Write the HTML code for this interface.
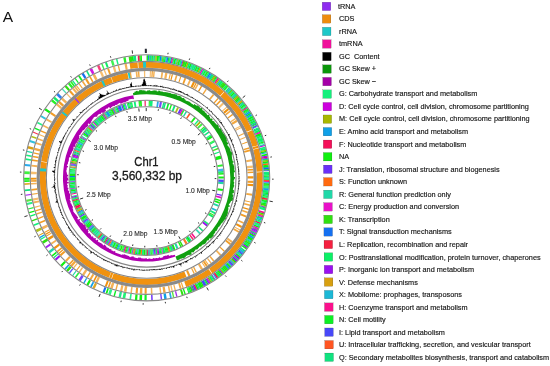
<!DOCTYPE html>
<html><head><meta charset="utf-8"><style>
html,body{margin:0;padding:0;background:#fff;overflow:hidden}
svg{display:block;will-change:transform}
text{font-family:"Liberation Sans",sans-serif}
</style></head><body>
<svg width="550" height="366" viewBox="0 0 550 366">
<rect width="550" height="366" fill="#fff"/>
<text x="2.8" y="21.9" font-size="15.5" fill="#111">A</text>
<path fill="#30e010" d="M128.58 56.6A122.6 122.6 0 0 1 130.41 56.34L131.15 61.89A117 117 0 0 0 129.41 62.14ZM130.24 56.36A122.6 122.6 0 0 1 131.79 56.16L132.47 61.72A117 117 0 0 0 130.99 61.91ZM139.09 55.49A122.6 122.6 0 0 1 140.57 55.4L140.85 61A117 117 0 0 0 139.43 61.08ZM178.69 59.5A122.6 122.6 0 0 1 180.41 59.97L178.87 65.36A117 117 0 0 0 177.23 64.9ZM183.27 60.83A122.6 122.6 0 0 1 184.25 61.14L182.54 66.47A117 117 0 0 0 181.6 66.18ZM184.09 61.09A122.6 122.6 0 0 1 185.84 61.67L184.06 66.97A117 117 0 0 0 182.38 66.42ZM196.36 65.76A122.6 122.6 0 0 1 197.92 66.46L195.58 71.55A117 117 0 0 0 194.09 70.88ZM206.89 71.04A122.6 122.6 0 0 1 208.38 71.9L205.56 76.74A117 117 0 0 0 204.14 75.92ZM213.64 75.14A122.6 122.6 0 0 1 214.51 75.71L211.41 80.38A117 117 0 0 0 210.58 79.83ZM215.48 76.36A122.6 122.6 0 0 1 216.3 76.92L213.12 81.53A117 117 0 0 0 212.34 81ZM223.67 82.42A122.6 122.6 0 0 1 225 83.51L221.42 87.82A117 117 0 0 0 220.15 86.78ZM224.86 83.4A122.6 122.6 0 0 1 226.21 84.52L222.57 88.79A117 117 0 0 0 221.29 87.71ZM231.7 89.5A122.6 122.6 0 0 1 232.4 90.18L228.49 94.18A117 117 0 0 0 227.82 93.54ZM236.91 94.83A122.6 122.6 0 0 1 237.78 95.78L233.62 99.53A117 117 0 0 0 232.79 98.62ZM238.67 96.78A122.6 122.6 0 0 1 239.77 98.05L235.52 101.69A117 117 0 0 0 234.47 100.48ZM248.47 109.48A122.6 122.6 0 0 1 248.96 110.23L244.29 113.32A117 117 0 0 0 243.82 112.6ZM253.71 118.02A122.6 122.6 0 0 1 254.47 119.4L249.55 122.07A117 117 0 0 0 248.82 120.75ZM256.49 123.29A122.6 122.6 0 0 1 257.02 124.36L251.98 126.8A117 117 0 0 0 251.48 125.79ZM263.75 141.37A122.6 122.6 0 0 1 264.12 142.59L258.76 144.2A117 117 0 0 0 258.4 143.04ZM268.97 168.9A122.6 122.6 0 0 1 269.07 170.31L263.48 170.66A117 117 0 0 0 263.39 169.31ZM269.1 170.81A122.6 122.6 0 0 1 269.11 171.03L263.52 171.34A117 117 0 0 0 263.51 171.13ZM269.18 183.32A122.6 122.6 0 0 1 269.08 185.11L263.49 184.78A117 117 0 0 0 263.58 183.07ZM267.67 197.77A122.6 122.6 0 0 1 267.52 198.66L262 197.71A117 117 0 0 0 262.15 196.86ZM267.3 199.9A122.6 122.6 0 0 1 267.1 200.96L261.6 199.9A117 117 0 0 0 261.79 198.89ZM266.36 204.55A122.6 122.6 0 0 1 265.94 206.35L260.49 205.05A117 117 0 0 0 260.89 203.33ZM257.98 229.3A122.6 122.6 0 0 1 257.55 230.22L252.49 227.83A117 117 0 0 0 252.9 226.95ZM250.43 243.21A122.6 122.6 0 0 1 249.45 244.73L244.75 241.68A117 117 0 0 0 245.69 240.22ZM240.73 256.52A122.6 122.6 0 0 1 239.55 257.91L235.31 254.25A117 117 0 0 0 236.44 252.92ZM231.3 266.58A122.6 122.6 0 0 1 230.61 267.23L226.78 263.15A117 117 0 0 0 227.44 262.53ZM228.53 269.14A122.6 122.6 0 0 1 227.12 270.38L223.45 266.16A117 117 0 0 0 224.8 264.97ZM226.13 271.24A122.6 122.6 0 0 1 224.95 272.23L221.38 267.92A117 117 0 0 0 222.5 266.98ZM222.27 274.39A122.6 122.6 0 0 1 220.85 275.48L217.47 271.02A117 117 0 0 0 218.82 269.98ZM218.87 276.96A122.6 122.6 0 0 1 218.15 277.47L214.89 272.92A117 117 0 0 0 215.57 272.43ZM214.95 279.69A122.6 122.6 0 0 1 214.13 280.24L211.05 275.56A117 117 0 0 0 211.84 275.04ZM204.07 286.2A122.6 122.6 0 0 1 202.67 286.93L200.12 281.94A117 117 0 0 0 201.45 281.25ZM193.02 291.36A122.6 122.6 0 0 1 191.36 292.03L189.32 286.81A117 117 0 0 0 190.9 286.18ZM153.56 254.74A77.2 77.2 0 0 1 152.56 254.83L152.14 249.24A71.6 71.6 0 0 0 153.06 249.17ZM151.98 254.87A77.2 77.2 0 0 1 150.57 254.95L150.29 249.36A71.6 71.6 0 0 0 151.6 249.28ZM133.06 253.84A77.2 77.2 0 0 1 132.32 253.7L133.36 248.2A71.6 71.6 0 0 0 134.05 248.32ZM125.65 252.12A77.2 77.2 0 0 1 124.62 251.83L126.22 246.46A71.6 71.6 0 0 0 127.18 246.74ZM122.51 251.16A77.2 77.2 0 0 1 121.75 250.91L123.56 245.61A71.6 71.6 0 0 0 124.26 245.84ZM115.65 248.53A77.2 77.2 0 0 1 114.56 248.04L116.89 242.95A71.6 71.6 0 0 0 117.91 243.41ZM92.1 232.43A77.2 77.2 0 0 1 91.57 231.89L95.57 227.97A71.6 71.6 0 0 0 96.06 228.47ZM91.65 231.97A77.2 77.2 0 0 1 91.02 231.32L95.06 227.44A71.6 71.6 0 0 0 95.64 228.04ZM69.52 176.08A77.2 77.2 0 0 1 69.56 174.88L75.15 175.1A71.6 71.6 0 0 0 75.12 176.2ZM73.13 154.47A77.2 77.2 0 0 1 73.48 153.38L78.79 155.16A71.6 71.6 0 0 0 78.46 156.17ZM86.13 129.99A77.2 77.2 0 0 1 86.84 129.1L91.18 132.63A71.6 71.6 0 0 0 90.52 133.46ZM92.05 123.32A77.2 77.2 0 0 1 92.57 122.8L96.5 126.8A71.6 71.6 0 0 0 96.02 127.28ZM101.59 115.2A77.2 77.2 0 0 1 102.44 114.6L105.65 119.18A71.6 71.6 0 0 0 104.86 119.75ZM110.51 109.66A77.2 77.2 0 0 1 111.39 109.2L113.96 114.18A71.6 71.6 0 0 0 113.14 114.6ZM111.3 109.25A77.2 77.2 0 0 1 112.43 108.67L114.92 113.69A71.6 71.6 0 0 0 113.87 114.22Z"/>
<path fill="#10f010" d="M131.62 56.18A122.6 122.6 0 0 1 133.45 55.97L134.06 61.53A117 117 0 0 0 132.3 61.74ZM136.84 55.65A122.6 122.6 0 0 1 137 55.63L137.44 61.22A117 117 0 0 0 137.29 61.23ZM140.4 55.41A122.6 122.6 0 0 1 141.84 55.35L142.06 60.94A117 117 0 0 0 140.69 61ZM146.55 55.25A122.6 122.6 0 0 1 148.09 55.26L148.02 60.86A117 117 0 0 0 146.55 60.85ZM148.76 55.27A122.6 122.6 0 0 1 149.81 55.29L149.67 60.89A117 117 0 0 0 148.66 60.87ZM153.63 55.45A122.6 122.6 0 0 1 154.93 55.53L154.56 61.11A117 117 0 0 0 153.31 61.04ZM156.72 55.66A122.6 122.6 0 0 1 157.9 55.76L157.38 61.34A117 117 0 0 0 156.26 61.24ZM157.72 55.75A122.6 122.6 0 0 1 159.08 55.88L158.52 61.45A117 117 0 0 0 157.22 61.32ZM164.64 56.57A122.6 122.6 0 0 1 165.97 56.77L165.09 62.3A117 117 0 0 0 163.82 62.11ZM168.29 57.17A122.6 122.6 0 0 1 169.52 57.39L168.48 62.89A117 117 0 0 0 167.3 62.68ZM174.45 58.43A122.6 122.6 0 0 1 176.23 58.86L174.88 64.29A117 117 0 0 0 173.18 63.89ZM185.68 61.61A122.6 122.6 0 0 1 187.37 62.19L185.51 67.47A117 117 0 0 0 183.9 66.92ZM190.19 63.22A122.6 122.6 0 0 1 191.17 63.6L189.14 68.82A117 117 0 0 0 188.2 68.46ZM191.01 63.54A122.6 122.6 0 0 1 191.94 63.9L189.87 69.11A117 117 0 0 0 188.99 68.76ZM198.72 66.83A122.6 122.6 0 0 1 199.91 67.4L197.48 72.44A117 117 0 0 0 196.34 71.9ZM216.15 76.82A122.6 122.6 0 0 1 217.05 77.44L213.84 82.03A117 117 0 0 0 212.98 81.44ZM222.99 81.88A122.6 122.6 0 0 1 223.8 82.53L220.28 86.88A117 117 0 0 0 219.51 86.26ZM227.08 85.28A122.6 122.6 0 0 1 228.21 86.27L224.48 90.45A117 117 0 0 0 223.41 89.5ZM233.96 91.74A122.6 122.6 0 0 1 235.23 93.04L231.19 96.91A117 117 0 0 0 229.98 95.67ZM239.66 97.92A122.6 122.6 0 0 1 240.61 99.03L236.32 102.63A117 117 0 0 0 235.41 101.57ZM242.49 101.34A122.6 122.6 0 0 1 243.31 102.37L238.9 105.82A117 117 0 0 0 238.12 104.83ZM245.39 105.11A122.6 122.6 0 0 1 245.89 105.79L241.36 109.08A117 117 0 0 0 240.88 108.44ZM246.35 106.43A122.6 122.6 0 0 1 246.93 107.24L242.35 110.47A117 117 0 0 0 241.8 109.7ZM247.73 108.4A122.6 122.6 0 0 1 248.56 109.62L243.91 112.74A117 117 0 0 0 243.12 111.57ZM252.45 115.82A122.6 122.6 0 0 1 253.38 117.44L248.51 120.2A117 117 0 0 0 247.62 118.65ZM254.92 120.24A122.6 122.6 0 0 1 255.52 121.37L250.55 123.95A117 117 0 0 0 249.98 122.87ZM259.93 130.83A122.6 122.6 0 0 1 260.28 131.69L255.09 133.8A117 117 0 0 0 254.75 132.98ZM260.74 132.85A122.6 122.6 0 0 1 261.27 134.21L256.04 136.2A117 117 0 0 0 255.53 134.91ZM261.21 134.05A122.6 122.6 0 0 1 261.66 135.26L256.41 137.2A117 117 0 0 0 255.98 136.05ZM266.26 150.72A122.6 122.6 0 0 1 266.62 152.36L261.14 153.52A117 117 0 0 0 260.8 151.96ZM266.9 153.73A122.6 122.6 0 0 1 267.26 155.57L261.75 156.59A117 117 0 0 0 261.41 154.83ZM268.14 161.05A122.6 122.6 0 0 1 268.38 162.83L262.82 163.51A117 117 0 0 0 262.6 161.82ZM268.57 164.52A122.6 122.6 0 0 1 268.71 165.8L263.13 166.35A117 117 0 0 0 263.01 165.13ZM268.69 165.63A122.6 122.6 0 0 1 268.85 167.4L263.27 167.88A117 117 0 0 0 263.12 166.19ZM269.28 175.42A122.6 122.6 0 0 1 269.3 176.86L263.7 176.9A117 117 0 0 0 263.68 175.53ZM269.09 184.94A122.6 122.6 0 0 1 269.04 185.86L263.45 185.49A117 117 0 0 0 263.5 184.62ZM268.89 187.81A122.6 122.6 0 0 1 268.82 188.7L263.24 188.2A117 117 0 0 0 263.31 187.36ZM268.36 193.01A122.6 122.6 0 0 1 268.19 194.28L262.64 193.53A117 117 0 0 0 262.8 192.32ZM268 195.67A122.6 122.6 0 0 1 267.79 197.04L262.26 196.16A117 117 0 0 0 262.46 194.86ZM266.62 203.35A122.6 122.6 0 0 1 266.32 204.72L260.86 203.49A117 117 0 0 0 261.14 202.19ZM265.66 207.52A122.6 122.6 0 0 1 265.43 208.43L260 207.03A117 117 0 0 0 260.22 206.16ZM264.07 213.29A122.6 122.6 0 0 1 263.63 214.69L258.29 213.01A117 117 0 0 0 258.7 211.67ZM261.49 220.92A122.6 122.6 0 0 1 261.12 221.88L255.89 219.87A117 117 0 0 0 256.24 218.95ZM259.27 226.42A122.6 122.6 0 0 1 258.54 228.07L253.43 225.78A117 117 0 0 0 254.13 224.2ZM254.99 235.33A122.6 122.6 0 0 1 254.58 236.09L249.66 233.43A117 117 0 0 0 250.04 232.7ZM254.66 235.94A122.6 122.6 0 0 1 254.04 237.08L249.14 234.38A117 117 0 0 0 249.73 233.29ZM253.18 238.62A122.6 122.6 0 0 1 252.29 240.16L247.46 237.31A117 117 0 0 0 248.31 235.85ZM252.37 240.01A122.6 122.6 0 0 1 251.73 241.08L246.94 238.2A117 117 0 0 0 247.55 237.17ZM250.82 242.57A122.6 122.6 0 0 1 250.34 243.35L245.6 240.36A117 117 0 0 0 246.07 239.62ZM248.71 245.86A122.6 122.6 0 0 1 247.77 247.24L243.16 244.07A117 117 0 0 0 244.05 242.76ZM247.18 248.1A122.6 122.6 0 0 1 246.11 249.6L241.57 246.32A117 117 0 0 0 242.59 244.89ZM236.32 261.51A122.6 122.6 0 0 1 235.05 262.85L231.02 258.97A117 117 0 0 0 232.22 257.69ZM234.05 263.88A122.6 122.6 0 0 1 233.4 264.53L229.44 260.57A117 117 0 0 0 230.06 259.95ZM230.74 267.11A122.6 122.6 0 0 1 229.74 268.04L225.95 263.92A117 117 0 0 0 226.9 263.04ZM227.25 270.27A122.6 122.6 0 0 1 226 271.35L222.38 267.08A117 117 0 0 0 223.57 266.05ZM211.42 281.98A122.6 122.6 0 0 1 210.49 282.55L207.57 277.77A117 117 0 0 0 208.46 277.22ZM202.83 286.85A122.6 122.6 0 0 1 201.29 287.63L198.79 282.61A117 117 0 0 0 200.26 281.87ZM201.44 287.55A122.6 122.6 0 0 1 199.88 288.32L197.45 283.27A117 117 0 0 0 198.94 282.54ZM198.78 288.84A122.6 122.6 0 0 1 197.12 289.6L194.82 284.5A117 117 0 0 0 196.4 283.77ZM194.72 290.66A122.6 122.6 0 0 1 193.5 291.17L191.36 285.99A117 117 0 0 0 192.52 285.5ZM191.52 291.96A122.6 122.6 0 0 1 190.2 292.47L188.21 287.24A117 117 0 0 0 189.47 286.75ZM189.36 292.79A122.6 122.6 0 0 1 188.43 293.13L186.52 287.86A117 117 0 0 0 187.41 287.54ZM175.49 249.48A77.2 77.2 0 0 1 174.35 249.93L172.34 244.7A71.6 71.6 0 0 0 173.41 244.28ZM174.45 249.89A77.2 77.2 0 0 1 173.55 250.23L171.6 244.98A71.6 71.6 0 0 0 172.44 244.66ZM170.98 251.13A77.2 77.2 0 0 1 170.11 251.41L168.42 246.08A71.6 71.6 0 0 0 169.22 245.82ZM168.94 251.78A77.2 77.2 0 0 1 167.78 252.12L166.25 246.73A71.6 71.6 0 0 0 167.33 246.41ZM166.84 252.38A77.2 77.2 0 0 1 165.86 252.64L164.47 247.21A71.6 71.6 0 0 0 165.38 246.97ZM162.04 253.51A77.2 77.2 0 0 1 161.23 253.67L160.18 248.17A71.6 71.6 0 0 0 160.92 248.02ZM146.86 255.05A77.2 77.2 0 0 1 146.12 255.05L146.17 249.45A71.6 71.6 0 0 0 146.85 249.45ZM144.97 255.03A77.2 77.2 0 0 1 143.7 254.99L143.91 249.4A71.6 71.6 0 0 0 145.1 249.43ZM140.75 254.82A77.2 77.2 0 0 1 139.74 254.74L140.25 249.16A71.6 71.6 0 0 0 141.18 249.24ZM139.85 254.75A77.2 77.2 0 0 1 139.09 254.67L139.64 249.1A71.6 71.6 0 0 0 140.35 249.17ZM139.2 254.68A77.2 77.2 0 0 1 138 254.56L138.63 248.99A71.6 71.6 0 0 0 139.74 249.11ZM136.99 254.44A77.2 77.2 0 0 1 135.89 254.29L136.67 248.74A71.6 71.6 0 0 0 137.7 248.88ZM131.07 253.45A77.2 77.2 0 0 1 129.8 253.18L131.02 247.71A71.6 71.6 0 0 0 132.21 247.97ZM129.9 253.2A77.2 77.2 0 0 1 129.24 253.05L130.5 247.59A71.6 71.6 0 0 0 131.12 247.73ZM126.63 252.4A77.2 77.2 0 0 1 125.55 252.1L127.08 246.71A71.6 71.6 0 0 0 128.09 246.99ZM121.85 250.94A77.2 77.2 0 0 1 121.48 250.81L123.31 245.52A71.6 71.6 0 0 0 123.66 245.64ZM121.13 250.69A77.2 77.2 0 0 1 119.86 250.23L121.8 244.98A71.6 71.6 0 0 0 122.99 245.41ZM119.96 250.27A77.2 77.2 0 0 1 119.59 250.13L121.56 244.89A71.6 71.6 0 0 0 121.9 245.02ZM119.35 250.04A77.2 77.2 0 0 1 118.65 249.77L120.69 244.56A71.6 71.6 0 0 0 121.33 244.81ZM116.83 249.04A77.2 77.2 0 0 1 115.56 248.49L117.81 243.36A71.6 71.6 0 0 0 119 243.88ZM113.83 247.7A77.2 77.2 0 0 1 113.15 247.38L115.58 242.33A71.6 71.6 0 0 0 116.21 242.63ZM113.25 247.43A77.2 77.2 0 0 1 112.21 246.92L114.72 241.91A71.6 71.6 0 0 0 115.67 242.38ZM106.51 243.76A77.2 77.2 0 0 1 105.84 243.35L108.8 238.6A71.6 71.6 0 0 0 109.42 238.98ZM104.46 242.47A77.2 77.2 0 0 1 103.55 241.87L106.68 237.22A71.6 71.6 0 0 0 107.52 237.78ZM86.32 225.95A77.2 77.2 0 0 1 85.57 224.99L90 221.57A71.6 71.6 0 0 0 90.7 222.46ZM82 219.97A77.2 77.2 0 0 1 81.41 219.05L86.15 216.06A71.6 71.6 0 0 0 86.7 216.91ZM81.47 219.14A77.2 77.2 0 0 1 80.97 218.34L85.74 215.4A71.6 71.6 0 0 0 86.2 216.14ZM81.02 218.43A77.2 77.2 0 0 1 80.56 217.66L85.36 214.77A71.6 71.6 0 0 0 85.79 215.48ZM79.64 216.1A77.2 77.2 0 0 1 79.04 215.03L83.95 212.33A71.6 71.6 0 0 0 84.51 213.32ZM74.98 206.42A77.2 77.2 0 0 1 74.46 205.08L79.7 203.1A71.6 71.6 0 0 0 80.18 204.35ZM73.68 202.91A77.2 77.2 0 0 1 73.32 201.83L78.64 200.09A71.6 71.6 0 0 0 78.98 201.1ZM70.76 191.75A77.2 77.2 0 0 1 70.61 190.91L76.13 189.97A71.6 71.6 0 0 0 76.27 190.74ZM70.63 191.02A77.2 77.2 0 0 1 70.5 190.24L76.03 189.34A71.6 71.6 0 0 0 76.15 190.06ZM69.94 186.1A77.2 77.2 0 0 1 69.81 184.73L75.39 184.23A71.6 71.6 0 0 0 75.51 185.5ZM69.77 184.25A77.2 77.2 0 0 1 69.69 183.25L75.28 182.86A71.6 71.6 0 0 0 75.35 183.78ZM69.55 180.66A77.2 77.2 0 0 1 69.52 179.44L75.12 179.32A71.6 71.6 0 0 0 75.15 180.45ZM69.52 179.54A77.2 77.2 0 0 1 69.5 178.12L75.1 178.1A71.6 71.6 0 0 0 75.12 179.42ZM69.55 174.99A77.2 77.2 0 0 1 69.62 173.6L75.21 173.91A71.6 71.6 0 0 0 75.15 175.2ZM69.88 170.19A77.2 77.2 0 0 1 70.01 168.96L75.58 169.6A71.6 71.6 0 0 0 75.45 170.74ZM70.95 162.96A77.2 77.2 0 0 1 71.19 161.79L76.67 162.96A71.6 71.6 0 0 0 76.45 164.04ZM71.4 160.84A77.2 77.2 0 0 1 71.72 159.47L77.16 160.8A71.6 71.6 0 0 0 76.86 162.08ZM73.76 152.56A77.2 77.2 0 0 1 74.11 151.59L79.37 153.49A71.6 71.6 0 0 0 79.05 154.39ZM77.19 144.25A77.2 77.2 0 0 1 77.65 143.33L82.66 145.84A71.6 71.6 0 0 0 82.24 146.69ZM78.5 141.67A77.2 77.2 0 0 1 78.98 140.79L83.89 143.47A71.6 71.6 0 0 0 83.45 144.29ZM79.38 140.06A77.2 77.2 0 0 1 79.99 139L84.83 141.81A71.6 71.6 0 0 0 84.27 142.8ZM83.15 134.02A77.2 77.2 0 0 1 83.57 133.41L88.15 136.64A71.6 71.6 0 0 0 87.76 137.2ZM83.51 133.5A77.2 77.2 0 0 1 84.23 132.49L88.76 135.78A71.6 71.6 0 0 0 88.09 136.72ZM87.28 128.57A77.2 77.2 0 0 1 87.86 127.87L92.13 131.5A71.6 71.6 0 0 0 91.59 132.14ZM89.69 125.8A77.2 77.2 0 0 1 90.34 125.09L94.43 128.92A71.6 71.6 0 0 0 93.83 129.57ZM102.96 114.23A77.2 77.2 0 0 1 103.65 113.77L106.77 118.42A71.6 71.6 0 0 0 106.14 118.85ZM108.92 110.52A77.2 77.2 0 0 1 109.81 110.03L112.49 114.95A71.6 71.6 0 0 0 111.67 115.41ZM113.83 108A77.2 77.2 0 0 1 114.42 107.72L116.76 112.81A71.6 71.6 0 0 0 116.21 113.07ZM127.83 102.99A77.2 77.2 0 0 1 128.96 102.72L130.25 108.17A71.6 71.6 0 0 0 129.2 108.42ZM129.92 102.49A77.2 77.2 0 0 1 130.9 102.28L132.05 107.77A71.6 71.6 0 0 0 131.14 107.96Z"/>
<path fill="#10e27f" d="M133.28 55.99A122.6 122.6 0 0 1 134.55 55.85L135.11 61.43A117 117 0 0 0 133.9 61.55ZM134.38 55.87A122.6 122.6 0 0 1 135.91 55.73L136.4 61.3A117 117 0 0 0 134.94 61.44ZM149.64 55.29A122.6 122.6 0 0 1 151.09 55.33L150.89 60.93A117 117 0 0 0 149.51 60.88ZM154.76 55.52A122.6 122.6 0 0 1 155.77 55.59L155.36 61.17A117 117 0 0 0 154.39 61.1ZM177.97 59.31A122.6 122.6 0 0 1 178.85 59.54L177.38 64.95A117 117 0 0 0 176.55 64.72ZM194.81 65.08A122.6 122.6 0 0 1 196.52 65.83L194.24 70.95A117 117 0 0 0 192.61 70.23ZM203.2 69.05A122.6 122.6 0 0 1 204.47 69.71L201.83 74.65A117 117 0 0 0 200.62 74.02ZM211.56 73.81A122.6 122.6 0 0 1 212.48 74.39L209.47 79.11A117 117 0 0 0 208.6 78.57ZM212.33 74.3A122.6 122.6 0 0 1 213.78 75.23L210.72 79.92A117 117 0 0 0 209.33 79.03ZM216.91 77.34A122.6 122.6 0 0 1 217.8 77.97L214.55 82.54A117 117 0 0 0 213.7 81.93ZM228.91 86.9A122.6 122.6 0 0 1 230.14 88.03L226.33 92.13A117 117 0 0 0 225.15 91.05ZM230.84 88.68A122.6 122.6 0 0 1 231.83 89.62L227.94 93.65A117 117 0 0 0 226.99 92.75ZM235.11 92.91A122.6 122.6 0 0 1 235.85 93.69L231.78 97.54A117 117 0 0 0 231.07 96.79ZM248.87 110.09A122.6 122.6 0 0 1 249.67 111.31L244.97 114.35A117 117 0 0 0 244.2 113.18ZM251.95 114.98A122.6 122.6 0 0 1 252.54 115.97L247.7 118.79A117 117 0 0 0 247.15 117.85ZM254.39 119.25A122.6 122.6 0 0 1 255 120.39L250.05 123.02A117 117 0 0 0 249.47 121.93ZM258.71 128.01A122.6 122.6 0 0 1 259.41 129.6L254.26 131.8A117 117 0 0 0 253.59 130.28ZM269.2 172.78A122.6 122.6 0 0 1 269.24 174.13L263.65 174.3A117 117 0 0 0 263.6 173.01ZM268.22 194.11A122.6 122.6 0 0 1 267.97 195.84L262.43 195.02A117 117 0 0 0 262.67 193.37ZM262.81 217.22A122.6 122.6 0 0 1 262.31 218.66L257.03 216.8A117 117 0 0 0 257.5 215.42ZM262.37 218.5A122.6 122.6 0 0 1 261.97 219.61L256.7 217.7A117 117 0 0 0 257.08 216.64ZM251.41 241.61A122.6 122.6 0 0 1 250.73 242.72L245.98 239.75A117 117 0 0 0 246.63 238.7ZM245.52 250.42A122.6 122.6 0 0 1 244.42 251.89L239.95 248.51A117 117 0 0 0 241 247.1ZM238.55 259.06A122.6 122.6 0 0 1 237.85 259.84L233.69 256.1A117 117 0 0 0 234.35 255.35ZM237.96 259.71A122.6 122.6 0 0 1 237.32 260.42L233.18 256.65A117 117 0 0 0 233.8 255.97ZM213.39 280.72A122.6 122.6 0 0 1 211.91 281.67L208.93 276.93A117 117 0 0 0 210.34 276.03ZM207.22 284.47A122.6 122.6 0 0 1 206.21 285.04L203.49 280.14A117 117 0 0 0 204.46 279.6ZM200.03 288.24A122.6 122.6 0 0 1 198.63 288.91L196.26 283.84A117 117 0 0 0 197.6 283.2ZM150.68 254.95A77.2 77.2 0 0 1 149.56 255L149.35 249.4A71.6 71.6 0 0 0 150.39 249.36ZM127.45 252.61A77.2 77.2 0 0 1 126.53 252.37L127.99 246.96A71.6 71.6 0 0 0 128.84 247.19ZM123.45 251.47A77.2 77.2 0 0 1 122.41 251.13L124.17 245.81A71.6 71.6 0 0 0 125.14 246.13ZM97.4 237.26A77.2 77.2 0 0 1 96.7 236.67L100.32 232.4A71.6 71.6 0 0 0 100.98 232.95ZM93.7 233.98A77.2 77.2 0 0 1 92.95 233.26L96.85 229.25A71.6 71.6 0 0 0 97.55 229.91ZM85.63 225.08A77.2 77.2 0 0 1 84.84 224.04L89.33 220.69A71.6 71.6 0 0 0 90.06 221.65ZM82.66 220.96A77.2 77.2 0 0 1 81.94 219.88L86.64 216.83A71.6 71.6 0 0 0 87.3 217.83ZM74.1 204.11A77.2 77.2 0 0 1 73.65 202.81L78.95 201A71.6 71.6 0 0 0 79.37 202.21ZM71.17 193.84A77.2 77.2 0 0 1 70.96 192.78L76.45 191.69A71.6 71.6 0 0 0 76.65 192.68ZM69.59 181.62A77.2 77.2 0 0 1 69.55 180.55L75.14 180.35A71.6 71.6 0 0 0 75.19 181.35ZM69.79 171.12A77.2 77.2 0 0 1 69.89 170.08L75.46 170.64A71.6 71.6 0 0 0 75.37 171.61ZM70.1 168.28A77.2 77.2 0 0 1 70.25 167.09L75.8 167.87A71.6 71.6 0 0 0 75.65 168.97ZM85.44 130.87A77.2 77.2 0 0 1 86.19 129.9L90.58 133.38A71.6 71.6 0 0 0 89.88 134.28ZM91.12 124.27A77.2 77.2 0 0 1 92.13 123.24L96.09 127.21A71.6 71.6 0 0 0 95.15 128.16ZM104.91 112.94A77.2 77.2 0 0 1 105.78 112.39L108.75 117.14A71.6 71.6 0 0 0 107.94 117.65ZM123.49 104.22A77.2 77.2 0 0 1 124.64 103.87L126.24 109.24A71.6 71.6 0 0 0 125.17 109.56Z"/>
<path fill="#f5105a" d="M137.73 55.58A122.6 122.6 0 0 1 139.26 55.48L139.6 61.07A117 117 0 0 0 138.14 61.16ZM182.52 60.6A122.6 122.6 0 0 1 183.44 60.88L181.76 66.23A117 117 0 0 0 180.88 65.95ZM267.43 156.52A122.6 122.6 0 0 1 267.66 157.88L262.14 158.8A117 117 0 0 0 261.92 157.5ZM260.82 222.66A122.6 122.6 0 0 1 260.2 224.2L255.02 222.08A117 117 0 0 0 255.61 220.61ZM218.29 277.37A122.6 122.6 0 0 1 216.77 278.46L213.57 273.86A117 117 0 0 0 215.02 272.83ZM197.28 289.53A122.6 122.6 0 0 1 195.89 290.15L193.65 285.02A117 117 0 0 0 194.97 284.43ZM148.02 255.04A77.2 77.2 0 0 1 146.75 255.05L146.75 249.45A71.6 71.6 0 0 0 147.92 249.44ZM105.41 243.08A77.2 77.2 0 0 1 104.37 242.41L107.44 237.73A71.6 71.6 0 0 0 108.4 238.35ZM75.72 208.21A77.2 77.2 0 0 1 75.36 207.35L80.53 205.21A71.6 71.6 0 0 0 80.87 206.01ZM75.4 207.45A77.2 77.2 0 0 1 74.94 206.32L80.15 204.26A71.6 71.6 0 0 0 80.57 205.3ZM70.85 163.5A77.2 77.2 0 0 1 70.97 162.85L76.46 163.94A71.6 71.6 0 0 0 76.35 164.54Z"/>
<path fill="#1570f0" d="M147.92 55.26A122.6 122.6 0 0 1 148.93 55.27L148.83 60.87A117 117 0 0 0 147.86 60.86ZM159.91 55.96A122.6 122.6 0 0 1 161.41 56.14L160.74 61.7A117 117 0 0 0 159.3 61.53ZM166.85 56.92A122.6 122.6 0 0 1 168.46 57.2L167.46 62.71A117 117 0 0 0 165.93 62.44ZM170.82 57.65A122.6 122.6 0 0 1 172.11 57.91L170.95 63.39A117 117 0 0 0 169.72 63.14ZM209.52 72.56A122.6 122.6 0 0 1 210.85 73.37L207.92 78.14A117 117 0 0 0 206.65 77.37ZM256.17 122.65A122.6 122.6 0 0 1 256.57 123.45L251.55 125.93A117 117 0 0 0 251.17 125.17ZM268.84 167.23A122.6 122.6 0 0 1 268.99 169.07L263.4 169.47A117 117 0 0 0 263.26 167.71ZM269.24 181.74A122.6 122.6 0 0 1 269.2 182.85L263.6 182.62A117 117 0 0 0 263.64 181.56ZM243.56 253.01A122.6 122.6 0 0 1 242.96 253.78L238.56 250.31A117 117 0 0 0 239.13 249.58ZM229.87 267.93A122.6 122.6 0 0 1 229.06 268.67L225.29 264.52A117 117 0 0 0 226.07 263.81ZM90.17 230.42A77.2 77.2 0 0 1 89.37 229.55L93.53 225.8A71.6 71.6 0 0 0 94.27 226.61ZM78.03 213.13A77.2 77.2 0 0 1 77.45 211.96L82.47 209.49A71.6 71.6 0 0 0 83.01 210.57ZM69.5 177.1A77.2 77.2 0 0 1 69.52 175.97L75.12 176.1A71.6 71.6 0 0 0 75.1 177.15ZM84.17 132.58A77.2 77.2 0 0 1 84.82 131.7L89.3 135.04A71.6 71.6 0 0 0 88.7 135.86ZM96.18 119.47A77.2 77.2 0 0 1 96.71 119.02L100.34 123.29A71.6 71.6 0 0 0 99.85 123.71ZM118.04 106.17A77.2 77.2 0 0 1 119.24 105.7L121.23 110.93A71.6 71.6 0 0 0 120.12 111.37ZM119.14 105.74A77.2 77.2 0 0 1 120.42 105.26L122.33 110.52A71.6 71.6 0 0 0 121.14 110.97Z"/>
<path fill="#1cb8d6" d="M150.92 55.32A122.6 122.6 0 0 1 151.82 55.36L151.59 60.95A117 117 0 0 0 150.73 60.92ZM152.81 55.4A122.6 122.6 0 0 1 153.8 55.46L153.47 61.05A117 117 0 0 0 152.53 61ZM165.8 56.75A122.6 122.6 0 0 1 167.02 56.95L166.09 62.47A117 117 0 0 0 164.93 62.28ZM219.82 79.44A122.6 122.6 0 0 1 221.2 80.48L217.8 84.93A117 117 0 0 0 216.48 83.94ZM230.01 87.91A122.6 122.6 0 0 1 230.96 88.8L227.11 92.86A117 117 0 0 0 226.21 92.02ZM243.21 102.24A122.6 122.6 0 0 1 243.95 103.2L239.51 106.61A117 117 0 0 0 238.8 105.69ZM257.76 125.92A122.6 122.6 0 0 1 258.1 126.65L253.01 128.99A117 117 0 0 0 252.68 128.29ZM269.2 182.68A122.6 122.6 0 0 1 269.17 183.49L263.58 183.23A117 117 0 0 0 263.61 182.46ZM262.03 219.45A122.6 122.6 0 0 1 261.42 221.08L256.18 219.11A117 117 0 0 0 256.76 217.55ZM251.82 240.94A122.6 122.6 0 0 1 251.32 241.76L246.55 238.84A117 117 0 0 0 247.02 238.06ZM244.52 251.76A122.6 122.6 0 0 1 243.45 253.15L239.03 249.71A117 117 0 0 0 240.05 248.38ZM138.1 254.57A77.2 77.2 0 0 1 136.88 254.42L137.6 248.87A71.6 71.6 0 0 0 138.73 249ZM128.27 252.82A77.2 77.2 0 0 1 127.34 252.58L128.75 247.16A71.6 71.6 0 0 0 129.61 247.38ZM111.16 246.38A77.2 77.2 0 0 1 110 245.77L112.66 240.84A71.6 71.6 0 0 0 113.73 241.41ZM110.1 245.82A77.2 77.2 0 0 1 109.45 245.47L112.15 240.56A71.6 71.6 0 0 0 112.75 240.89ZM100.9 240A77.2 77.2 0 0 1 100.35 239.59L103.71 235.11A71.6 71.6 0 0 0 104.22 235.49ZM96.19 236.23A77.2 77.2 0 0 1 95.44 235.57L99.16 231.39A71.6 71.6 0 0 0 99.86 232ZM89.44 229.63A77.2 77.2 0 0 1 88.78 228.89L92.98 225.19A71.6 71.6 0 0 0 93.6 225.88ZM78.5 214.03A77.2 77.2 0 0 1 77.98 213.04L82.97 210.48A71.6 71.6 0 0 0 83.45 211.4ZM72.83 200.28A77.2 77.2 0 0 1 72.62 199.57L77.99 197.99A71.6 71.6 0 0 0 78.19 198.65ZM69.82 184.84A77.2 77.2 0 0 1 69.76 184.14L75.34 183.69A71.6 71.6 0 0 0 75.39 184.33ZM73.45 153.48A77.2 77.2 0 0 1 73.8 152.45L79.09 154.3A71.6 71.6 0 0 0 78.76 155.25ZM77.6 143.43A77.2 77.2 0 0 1 78.25 142.15L83.22 144.74A71.6 71.6 0 0 0 82.61 145.93ZM89.09 126.46A77.2 77.2 0 0 1 89.76 125.72L93.89 129.5A71.6 71.6 0 0 0 93.27 130.19Z"/>
<path fill="#0cf024" d="M151.65 55.35A122.6 122.6 0 0 1 152.98 55.41L152.69 61A117 117 0 0 0 151.42 60.95ZM204.93 69.96A122.6 122.6 0 0 1 206.32 70.72L203.6 75.62A117 117 0 0 0 202.27 74.89ZM228.08 86.15A122.6 122.6 0 0 1 228.43 86.47L224.7 90.64A117 117 0 0 0 224.36 90.34ZM244.58 104.02A122.6 122.6 0 0 1 245.49 105.25L240.98 108.57A117 117 0 0 0 240.11 107.39ZM250.45 112.52A122.6 122.6 0 0 1 251.35 113.99L246.57 116.9A117 117 0 0 0 245.71 115.51ZM269.05 185.69A122.6 122.6 0 0 1 268.97 186.85L263.38 186.44A117 117 0 0 0 263.46 185.33ZM267.13 200.79A122.6 122.6 0 0 1 266.81 202.42L261.33 201.3A117 117 0 0 0 261.63 199.74ZM220.99 275.38A122.6 122.6 0 0 1 219.96 276.16L216.61 271.67A117 117 0 0 0 217.6 270.92ZM208.31 283.84A122.6 122.6 0 0 1 207.07 284.56L204.31 279.68A117 117 0 0 0 205.5 279ZM167.89 252.09A77.2 77.2 0 0 1 166.73 252.41L165.28 247A71.6 71.6 0 0 0 166.35 246.7ZM165.96 252.61A77.2 77.2 0 0 1 165.33 252.77L163.98 247.33A71.6 71.6 0 0 0 164.56 247.19ZM161.34 253.65A77.2 77.2 0 0 1 160.27 253.85L159.29 248.33A71.6 71.6 0 0 0 160.28 248.15ZM107.12 244.13A77.2 77.2 0 0 1 106.41 243.7L109.34 238.93A71.6 71.6 0 0 0 110 239.33ZM99.38 238.84A77.2 77.2 0 0 1 98.61 238.25L102.1 233.86A71.6 71.6 0 0 0 102.81 234.42ZM90.55 230.83A77.2 77.2 0 0 1 90.1 230.35L94.2 226.54A71.6 71.6 0 0 0 94.62 226.99ZM88.23 228.26A77.2 77.2 0 0 1 87.66 227.59L91.94 223.98A71.6 71.6 0 0 0 92.47 224.6ZM87.73 227.67A77.2 77.2 0 0 1 87.05 226.86L91.38 223.31A71.6 71.6 0 0 0 92.01 224.06ZM87.12 226.94A77.2 77.2 0 0 1 86.25 225.86L90.63 222.38A71.6 71.6 0 0 0 91.44 223.38ZM76.36 209.66A77.2 77.2 0 0 1 75.97 208.8L81.1 206.55A71.6 71.6 0 0 0 81.46 207.36ZM73.35 201.93A77.2 77.2 0 0 1 73.08 201.09L78.42 199.41A71.6 71.6 0 0 0 78.67 200.19ZM72.65 199.67A77.2 77.2 0 0 1 72.42 198.88L77.81 197.35A71.6 71.6 0 0 0 78.02 198.09ZM71.69 159.58A77.2 77.2 0 0 1 72.01 158.33L77.43 159.75A71.6 71.6 0 0 0 77.13 160.9ZM75.99 146.87A77.2 77.2 0 0 1 76.57 145.57L81.66 147.91A71.6 71.6 0 0 0 81.12 149.11ZM96.63 119.09A77.2 77.2 0 0 1 97.16 118.64L100.75 122.94A71.6 71.6 0 0 0 100.26 123.35ZM100.12 116.29A77.2 77.2 0 0 1 100.73 115.83L104.06 120.33A71.6 71.6 0 0 0 103.49 120.75ZM100.64 115.89A77.2 77.2 0 0 1 101.67 115.14L104.94 119.69A71.6 71.6 0 0 0 103.98 120.39ZM115.99 107.02A77.2 77.2 0 0 1 117.23 106.5L119.36 111.67A71.6 71.6 0 0 0 118.22 112.16ZM122.26 104.62A77.2 77.2 0 0 1 123.59 104.19L125.27 109.53A71.6 71.6 0 0 0 124.03 109.93Z"/>
<path fill="#a8b800" d="M155.6 55.57A122.6 122.6 0 0 1 156.89 55.67L156.42 61.25A117 117 0 0 0 155.2 61.16ZM162.38 56.26A122.6 122.6 0 0 1 163.62 56.42L162.84 61.97A117 117 0 0 0 161.67 61.81ZM177.06 59.07A122.6 122.6 0 0 1 178.14 59.35L176.7 64.76A117 117 0 0 0 175.67 64.49ZM187.2 62.13A122.6 122.6 0 0 1 188.78 62.7L186.86 67.96A117 117 0 0 0 185.35 67.42ZM199.76 67.33A122.6 122.6 0 0 1 201.01 67.93L198.53 72.95A117 117 0 0 0 197.33 72.37ZM214.37 75.62A122.6 122.6 0 0 1 215.62 76.46L212.47 81.09A117 117 0 0 0 211.28 80.29ZM218.76 78.66A122.6 122.6 0 0 1 219.96 79.54L216.61 84.03A117 117 0 0 0 215.46 83.19ZM232.28 90.06A122.6 122.6 0 0 1 232.89 90.66L228.95 94.64A117 117 0 0 0 228.37 94.07ZM237.66 95.65A122.6 122.6 0 0 1 238.78 96.91L234.57 100.6A117 117 0 0 0 233.51 99.4ZM266.01 149.62A122.6 122.6 0 0 1 266.3 150.89L260.84 152.12A117 117 0 0 0 260.56 150.91ZM267.96 159.76A122.6 122.6 0 0 1 268.17 161.22L262.62 161.98A117 117 0 0 0 262.42 160.58ZM265.98 206.19A122.6 122.6 0 0 1 265.77 207.06L260.33 205.73A117 117 0 0 0 260.53 204.89ZM263.69 214.53A122.6 122.6 0 0 1 263.16 216.17L257.84 214.42A117 117 0 0 0 258.34 212.85ZM235.17 262.72A122.6 122.6 0 0 1 234.51 263.41L230.49 259.5A117 117 0 0 0 231.13 258.85ZM224.27 272.79A122.6 122.6 0 0 1 222.94 273.86L219.46 269.48A117 117 0 0 0 220.73 268.45ZM212.06 281.58A122.6 122.6 0 0 1 211.27 282.07L208.32 277.31A117 117 0 0 0 209.07 276.84ZM145.6 255.04A77.2 77.2 0 0 1 144.86 255.03L145 249.43A71.6 71.6 0 0 0 145.68 249.44ZM77.49 212.06A77.2 77.2 0 0 1 76.9 210.83L81.96 208.43A71.6 71.6 0 0 0 82.51 209.58ZM87.79 127.95A77.2 77.2 0 0 1 88.67 126.93L92.88 130.63A71.6 71.6 0 0 0 92.06 131.57Z"/>
<path fill="#0cf066" d="M158.91 55.86A122.6 122.6 0 0 1 160.08 55.98L159.47 61.55A117 117 0 0 0 158.35 61.43ZM163.45 56.4A122.6 122.6 0 0 1 164.81 56.59L163.98 62.13A117 117 0 0 0 162.68 61.95ZM188.62 62.64A122.6 122.6 0 0 1 190.35 63.28L188.35 68.52A117 117 0 0 0 186.7 67.9ZM197.76 66.39A122.6 122.6 0 0 1 198.87 66.9L196.49 71.97A117 117 0 0 0 195.43 71.48ZM221.06 80.38A122.6 122.6 0 0 1 221.82 80.96L218.39 85.38A117 117 0 0 0 217.67 84.83ZM221.68 80.85A122.6 122.6 0 0 1 223.12 81.99L219.63 86.36A117 117 0 0 0 218.26 85.28ZM226.08 84.41A122.6 122.6 0 0 1 227.21 85.39L223.53 89.61A117 117 0 0 0 222.45 88.68ZM243.85 103.07A122.6 122.6 0 0 1 244.68 104.16L240.2 107.52A117 117 0 0 0 239.41 106.48ZM247.32 107.81A122.6 122.6 0 0 1 247.83 108.54L243.21 111.71A117 117 0 0 0 242.73 111.01ZM253.3 117.29A122.6 122.6 0 0 1 253.79 118.16L248.9 120.89A117 117 0 0 0 248.43 120.06ZM255.44 121.22A122.6 122.6 0 0 1 256.25 122.8L251.24 125.31A117 117 0 0 0 250.47 123.81ZM258.38 127.27A122.6 122.6 0 0 1 258.78 128.16L253.66 130.43A117 117 0 0 0 253.28 129.58ZM259.34 129.44A122.6 122.6 0 0 1 259.99 130.99L254.82 133.13A117 117 0 0 0 254.19 131.65ZM261.6 135.09A122.6 122.6 0 0 1 262.24 136.84L256.96 138.71A117 117 0 0 0 256.35 137.05ZM262.5 137.57A122.6 122.6 0 0 1 263.05 139.21L257.74 140.97A117 117 0 0 0 257.21 139.41ZM263 139.05A122.6 122.6 0 0 1 263.45 140.43L258.12 142.14A117 117 0 0 0 257.68 140.82ZM265.61 148.01A122.6 122.6 0 0 1 266.05 149.79L260.59 151.07A117 117 0 0 0 260.18 149.37ZM267.76 158.48A122.6 122.6 0 0 1 267.98 159.93L262.44 160.75A117 117 0 0 0 262.23 159.37ZM269.24 173.96A122.6 122.6 0 0 1 269.28 175.59L263.68 175.7A117 117 0 0 0 263.64 174.14ZM268.56 191.33A122.6 122.6 0 0 1 268.34 193.18L262.78 192.48A117 117 0 0 0 262.99 190.72ZM256.18 233.02A122.6 122.6 0 0 1 255.38 234.59L250.42 232A117 117 0 0 0 251.18 230.5ZM249.54 244.59A122.6 122.6 0 0 1 248.61 246L243.96 242.89A117 117 0 0 0 244.84 241.54ZM242.35 254.54A122.6 122.6 0 0 1 241.6 255.47L237.26 251.93A117 117 0 0 0 237.98 251.04ZM225.08 272.12A122.6 122.6 0 0 1 224.14 272.9L220.6 268.55A117 117 0 0 0 221.5 267.81ZM220.09 276.06A122.6 122.6 0 0 1 218.73 277.06L215.44 272.53A117 117 0 0 0 216.74 271.57ZM214.28 280.15A122.6 122.6 0 0 1 213.25 280.82L210.21 276.11A117 117 0 0 0 211.19 275.47ZM190.36 292.41A122.6 122.6 0 0 1 189.2 292.85L187.26 287.6A117 117 0 0 0 188.36 287.18ZM165.43 252.74A77.2 77.2 0 0 1 164.3 253.02L163.02 247.57A71.6 71.6 0 0 0 164.07 247.31ZM164.4 252.99A77.2 77.2 0 0 1 163.21 253.26L162.01 247.79A71.6 71.6 0 0 0 163.12 247.54ZM160.38 253.83A77.2 77.2 0 0 1 159.27 254.02L158.36 248.49A71.6 71.6 0 0 0 159.39 248.32ZM157.56 254.28A77.2 77.2 0 0 1 156.39 254.44L155.68 248.88A71.6 71.6 0 0 0 156.77 248.74ZM156.49 254.43A77.2 77.2 0 0 1 155.63 254.53L154.98 248.97A71.6 71.6 0 0 0 155.78 248.87ZM148.92 255.02A77.2 77.2 0 0 1 147.91 255.04L147.82 249.44A71.6 71.6 0 0 0 148.76 249.42ZM143.8 255A77.2 77.2 0 0 1 142.88 254.96L143.16 249.36A71.6 71.6 0 0 0 144.01 249.4ZM112.31 246.97A77.2 77.2 0 0 1 111.65 246.63L114.19 241.65A71.6 71.6 0 0 0 114.8 241.95ZM102.96 241.46A77.2 77.2 0 0 1 101.79 240.64L105.05 236.09A71.6 71.6 0 0 0 106.13 236.85ZM93.03 233.34A77.2 77.2 0 0 1 92.03 232.35L95.99 228.4A71.6 71.6 0 0 0 96.92 229.31ZM82.98 221.43A77.2 77.2 0 0 1 82.6 220.87L87.25 217.75A71.6 71.6 0 0 0 87.6 218.27ZM74.5 205.18A77.2 77.2 0 0 1 74.07 204.01L79.34 202.11A71.6 71.6 0 0 0 79.74 203.2ZM72.45 198.98A77.2 77.2 0 0 1 72.13 197.84L77.54 196.39A71.6 71.6 0 0 0 77.83 197.45ZM70.52 190.35A77.2 77.2 0 0 1 70.32 189.08L75.86 188.27A71.6 71.6 0 0 0 76.04 189.44ZM70.24 188.51A77.2 77.2 0 0 1 70.07 187.2L75.63 186.52A71.6 71.6 0 0 0 75.79 187.74ZM70.08 187.31A77.2 77.2 0 0 1 69.93 185.99L75.5 185.4A71.6 71.6 0 0 0 75.64 186.62ZM69.7 183.36A77.2 77.2 0 0 1 69.62 182.23L75.22 181.91A71.6 71.6 0 0 0 75.28 182.96ZM69.5 178.22A77.2 77.2 0 0 1 69.5 176.99L75.1 177.05A71.6 71.6 0 0 0 75.1 178.2ZM69.69 172.38A77.2 77.2 0 0 1 69.8 171.02L75.38 171.51A71.6 71.6 0 0 0 75.28 172.77ZM70.44 165.86A77.2 77.2 0 0 1 70.56 165.08L76.09 166.01A71.6 71.6 0 0 0 75.97 166.73ZM79.94 139.09A77.2 77.2 0 0 1 80.33 138.42L85.14 141.28A71.6 71.6 0 0 0 84.78 141.9ZM82.66 134.74A77.2 77.2 0 0 1 83.21 133.94L87.81 137.12A71.6 71.6 0 0 0 87.3 137.87ZM84.75 131.78A77.2 77.2 0 0 1 85.5 130.79L89.94 134.2A71.6 71.6 0 0 0 89.24 135.12ZM93.53 121.88A77.2 77.2 0 0 1 94.59 120.89L98.37 125.02A71.6 71.6 0 0 0 97.39 125.94ZM94.51 120.96A77.2 77.2 0 0 1 95.51 120.07L99.22 124.26A71.6 71.6 0 0 0 98.3 125.09ZM97.08 118.71A77.2 77.2 0 0 1 97.79 118.12L101.34 122.45A71.6 71.6 0 0 0 100.68 123ZM97.71 118.19A77.2 77.2 0 0 1 98.33 117.68L101.84 122.05A71.6 71.6 0 0 0 101.26 122.52ZM98.25 117.75A77.2 77.2 0 0 1 99.27 116.94L102.71 121.35A71.6 71.6 0 0 0 101.76 122.11ZM99.19 117A77.2 77.2 0 0 1 100.2 116.22L103.57 120.69A71.6 71.6 0 0 0 102.63 121.42ZM107.89 111.11A77.2 77.2 0 0 1 109.02 110.47L111.75 115.36A71.6 71.6 0 0 0 110.71 115.95ZM109.72 110.09A77.2 77.2 0 0 1 110.61 109.61L113.22 114.56A71.6 71.6 0 0 0 112.4 115ZM115.03 107.44A77.2 77.2 0 0 1 116.09 106.98L118.31 112.12A71.6 71.6 0 0 0 117.33 112.55ZM126.69 103.29A77.2 77.2 0 0 1 127.93 102.97L129.29 108.4A71.6 71.6 0 0 0 128.15 108.7ZM130.79 102.31A77.2 77.2 0 0 1 132.17 102.03L133.22 107.53A71.6 71.6 0 0 0 131.95 107.79Z"/>
<path fill="#20d8a8" d="M161.24 56.12A122.6 122.6 0 0 1 162.55 56.28L161.83 61.83A117 117 0 0 0 160.58 61.68ZM176.06 58.82A122.6 122.6 0 0 1 177.22 59.11L175.83 64.53A117 117 0 0 0 174.72 64.25ZM191.78 63.84A122.6 122.6 0 0 1 193.13 64.38L191.01 69.56A117 117 0 0 0 189.72 69.05ZM235.74 93.57A122.6 122.6 0 0 1 236.34 94.21L232.25 98.03A117 117 0 0 0 231.67 97.42ZM236.23 94.09A122.6 122.6 0 0 1 237.03 94.96L232.9 98.74A117 117 0 0 0 232.14 97.92ZM240.5 98.9A122.6 122.6 0 0 1 241.62 100.26L237.29 103.8A117 117 0 0 0 236.21 102.51ZM245.79 105.65A122.6 122.6 0 0 1 246.45 106.57L241.89 109.83A117 117 0 0 0 241.26 108.95ZM264.49 143.83A122.6 122.6 0 0 1 264.87 145.18L259.47 146.67A117 117 0 0 0 259.11 145.39ZM269.29 176.68A122.6 122.6 0 0 1 269.3 178.43L263.7 178.4A117 117 0 0 0 263.69 176.74ZM259.64 225.55A122.6 122.6 0 0 1 259.2 226.58L254.06 224.35A117 117 0 0 0 254.48 223.37ZM241.71 255.34A122.6 122.6 0 0 1 240.62 256.65L236.33 253.05A117 117 0 0 0 237.37 251.8ZM232.05 265.86A122.6 122.6 0 0 1 231.18 266.7L227.32 262.64A117 117 0 0 0 228.15 261.84ZM216.2 278.85A122.6 122.6 0 0 1 216.1 278.91L212.93 274.3A117 117 0 0 0 213.03 274.23ZM146.23 255.05A77.2 77.2 0 0 1 145.5 255.04L145.58 249.44A71.6 71.6 0 0 0 146.27 249.45ZM118.75 249.81A77.2 77.2 0 0 1 117.7 249.4L119.8 244.21A71.6 71.6 0 0 0 120.78 244.59ZM114.65 248.08A77.2 77.2 0 0 1 113.73 247.66L116.12 242.59A71.6 71.6 0 0 0 116.98 242.99ZM103.64 241.93A77.2 77.2 0 0 1 102.87 241.4L106.05 236.79A71.6 71.6 0 0 0 106.77 237.28ZM100.44 239.65A77.2 77.2 0 0 1 99.29 238.78L102.73 234.36A71.6 71.6 0 0 0 103.79 235.17ZM94.56 234.78A77.2 77.2 0 0 1 93.62 233.91L97.47 229.84A71.6 71.6 0 0 0 98.34 230.65ZM91.09 231.4A77.2 77.2 0 0 1 90.47 230.75L94.55 226.91A71.6 71.6 0 0 0 95.12 227.51ZM80.61 217.75A77.2 77.2 0 0 1 80.2 217.07L85.03 214.22A71.6 71.6 0 0 0 85.41 214.86ZM79.1 215.13A77.2 77.2 0 0 1 78.45 213.93L83.4 211.32A71.6 71.6 0 0 0 84 212.42ZM70.98 192.88A77.2 77.2 0 0 1 70.74 191.65L76.25 190.65A71.6 71.6 0 0 0 76.47 191.79ZM69.65 173.1A77.2 77.2 0 0 1 69.7 172.27L75.29 172.67A71.6 71.6 0 0 0 75.24 173.45ZM74.07 151.69A77.2 77.2 0 0 1 74.44 150.67L79.69 152.64A71.6 71.6 0 0 0 79.34 153.58ZM74.77 149.81A77.2 77.2 0 0 1 75.27 148.57L80.45 150.69A71.6 71.6 0 0 0 79.99 151.84ZM75.23 148.67A77.2 77.2 0 0 1 75.73 147.47L80.88 149.68A71.6 71.6 0 0 0 80.41 150.79ZM81.3 136.82A77.2 77.2 0 0 1 82.02 135.71L86.71 138.77A71.6 71.6 0 0 0 86.05 139.8ZM95.42 120.14A77.2 77.2 0 0 1 96.26 119.4L99.92 123.64A71.6 71.6 0 0 0 99.14 124.32ZM114.33 107.77A77.2 77.2 0 0 1 115.13 107.4L117.42 112.51A71.6 71.6 0 0 0 116.67 112.85ZM120.32 105.3A77.2 77.2 0 0 1 120.84 105.11L122.71 110.39A71.6 71.6 0 0 0 122.24 110.56ZM124.54 103.9A77.2 77.2 0 0 1 125.21 103.7L126.77 109.08A71.6 71.6 0 0 0 126.14 109.26ZM128.86 102.74A77.2 77.2 0 0 1 130.03 102.47L131.24 107.94A71.6 71.6 0 0 0 130.15 108.19Z"/>
<path fill="#14f07c" d="M169.35 57.36A122.6 122.6 0 0 1 170.98 57.68L169.88 63.17A117 117 0 0 0 168.32 62.86ZM173.01 58.11A122.6 122.6 0 0 1 174.62 58.47L173.34 63.92A117 117 0 0 0 171.81 63.58ZM180.24 59.93A122.6 122.6 0 0 1 181.83 60.39L180.23 65.76A117 117 0 0 0 178.71 65.31ZM192.97 64.32A122.6 122.6 0 0 1 194.28 64.86L192.11 70.02A117 117 0 0 0 190.85 69.5ZM194.12 64.79A122.6 122.6 0 0 1 194.96 65.15L192.76 70.3A117 117 0 0 0 191.96 69.96ZM200.85 67.86A122.6 122.6 0 0 1 202.11 68.49L199.58 73.48A117 117 0 0 0 198.38 72.88ZM204.32 69.63A122.6 122.6 0 0 1 205.08 70.04L202.42 74.97A117 117 0 0 0 201.69 74.58ZM206.17 70.64A122.6 122.6 0 0 1 207.04 71.13L204.28 76A117 117 0 0 0 203.45 75.54ZM208.23 71.81A122.6 122.6 0 0 1 209.66 72.65L206.79 77.46A117 117 0 0 0 205.42 76.65ZM232.77 90.54A122.6 122.6 0 0 1 234.08 91.86L230.09 95.79A117 117 0 0 0 228.84 94.53ZM256.94 124.21A122.6 122.6 0 0 1 257.34 125.03L252.28 127.44A117 117 0 0 0 251.91 126.66ZM262.18 136.68A122.6 122.6 0 0 1 262.55 137.73L257.26 139.57A117 117 0 0 0 256.91 138.56ZM263.4 140.26A122.6 122.6 0 0 1 263.8 141.53L258.45 143.19A117 117 0 0 0 258.07 141.98ZM264.07 142.43A122.6 122.6 0 0 1 264.35 143.35L258.97 144.93A117 117 0 0 0 258.71 144.05ZM265.24 146.56A122.6 122.6 0 0 1 265.65 148.17L260.22 149.53A117 117 0 0 0 259.83 147.99ZM268.36 162.66A122.6 122.6 0 0 1 268.46 163.5L262.9 164.15A117 117 0 0 0 262.8 163.35ZM269.15 171.76A122.6 122.6 0 0 1 269.2 172.95L263.61 173.18A117 117 0 0 0 263.56 172.04ZM269.3 178.26A122.6 122.6 0 0 1 269.28 180.12L263.68 180.01A117 117 0 0 0 263.7 178.24ZM268.98 186.68A122.6 122.6 0 0 1 268.88 187.99L263.3 187.52A117 117 0 0 0 263.4 186.27ZM268.68 190.21A122.6 122.6 0 0 1 268.54 191.5L262.97 190.88A117 117 0 0 0 263.1 189.65ZM267.82 196.87A122.6 122.6 0 0 1 267.64 197.93L262.12 197.02A117 117 0 0 0 262.28 196ZM266.85 202.25A122.6 122.6 0 0 1 266.58 203.52L261.11 202.35A117 117 0 0 0 261.36 201.14ZM265.47 208.26A122.6 122.6 0 0 1 265.24 209.15L259.82 207.72A117 117 0 0 0 260.04 206.87ZM265.28 208.99A122.6 122.6 0 0 1 264.89 210.45L259.49 208.96A117 117 0 0 0 259.86 207.56ZM261.18 221.72A122.6 122.6 0 0 1 260.76 222.82L255.55 220.76A117 117 0 0 0 255.95 219.72ZM260.27 224.04A122.6 122.6 0 0 1 259.57 225.7L254.42 223.52A117 117 0 0 0 255.08 221.93ZM173.13 250.39A77.2 77.2 0 0 1 171.88 250.83L170.05 245.53A71.6 71.6 0 0 0 171.21 245.12ZM171.98 250.79A77.2 77.2 0 0 1 170.88 251.17L169.13 245.85A71.6 71.6 0 0 0 170.15 245.5ZM162.78 253.36A77.2 77.2 0 0 1 161.93 253.53L160.82 248.04A71.6 71.6 0 0 0 161.61 247.88ZM152.67 254.82A77.2 77.2 0 0 1 151.88 254.88L151.5 249.29A71.6 71.6 0 0 0 152.24 249.24ZM142.99 254.96A77.2 77.2 0 0 1 141.63 254.88L142 249.3A71.6 71.6 0 0 0 143.26 249.37ZM135.99 254.3A77.2 77.2 0 0 1 134.67 254.11L135.54 248.58A71.6 71.6 0 0 0 136.77 248.76ZM131.81 253.6A77.2 77.2 0 0 1 130.97 253.43L132.11 247.95A71.6 71.6 0 0 0 132.89 248.11ZM111.75 246.68A77.2 77.2 0 0 1 111.06 246.33L113.65 241.36A71.6 71.6 0 0 0 114.28 241.69ZM96.78 236.74A77.2 77.2 0 0 1 96.11 236.16L99.78 231.93A71.6 71.6 0 0 0 100.4 232.47ZM95.52 235.64A77.2 77.2 0 0 1 94.48 234.71L98.27 230.58A71.6 71.6 0 0 0 99.23 231.45ZM84.9 224.12A77.2 77.2 0 0 1 84.23 223.2L88.76 219.91A71.6 71.6 0 0 0 89.39 220.77ZM76.69 210.38A77.2 77.2 0 0 1 76.32 209.56L81.42 207.26A71.6 71.6 0 0 0 81.76 208.02ZM71.9 196.95A77.2 77.2 0 0 1 71.65 195.96L77.1 194.65A71.6 71.6 0 0 0 77.33 195.56ZM69.61 173.71A77.2 77.2 0 0 1 69.65 172.99L75.24 173.35A71.6 71.6 0 0 0 75.2 174.01ZM72.12 157.9A77.2 77.2 0 0 1 72.41 156.87L77.79 158.39A71.6 71.6 0 0 0 77.53 159.34ZM75.69 147.57A77.2 77.2 0 0 1 76.03 146.77L81.16 149.02A71.6 71.6 0 0 0 80.84 149.77ZM76.53 145.66A77.2 77.2 0 0 1 77 144.66L82.05 147.07A71.6 71.6 0 0 0 81.62 148ZM76.95 144.76A77.2 77.2 0 0 1 77.24 144.16L82.28 146.6A71.6 71.6 0 0 0 82.01 147.16ZM78.93 140.88A77.2 77.2 0 0 1 79.44 139.96L84.31 142.71A71.6 71.6 0 0 0 83.84 143.56ZM80.27 138.51A77.2 77.2 0 0 1 80.93 137.42L85.7 140.35A71.6 71.6 0 0 0 85.09 141.37ZM86.77 129.18A77.2 77.2 0 0 1 87.35 128.48L91.65 132.07A71.6 71.6 0 0 0 91.12 132.71ZM104.13 113.45A77.2 77.2 0 0 1 105 112.88L108.03 117.59A71.6 71.6 0 0 0 107.22 118.12Z"/>
<path fill="#fa108c" d="M171.94 57.88A122.6 122.6 0 0 1 173.18 58.14L171.97 63.61A117 117 0 0 0 170.79 63.36ZM217.66 77.87A122.6 122.6 0 0 1 218.89 78.76L215.6 83.29A117 117 0 0 0 214.42 82.44ZM246.83 107.1A122.6 122.6 0 0 1 247.42 107.95L242.82 111.14A117 117 0 0 0 242.25 110.33ZM269.26 180.94A122.6 122.6 0 0 1 269.23 181.91L263.64 181.72A117 117 0 0 0 263.66 180.8ZM264.49 211.85A122.6 122.6 0 0 1 264.02 213.46L258.66 211.83A117 117 0 0 0 259.11 210.3ZM158.24 254.18A77.2 77.2 0 0 1 157.45 254.3L156.67 248.75A71.6 71.6 0 0 0 157.41 248.64ZM129.34 253.07A77.2 77.2 0 0 1 128.17 252.79L129.51 247.36A71.6 71.6 0 0 0 130.6 247.62ZM124.73 251.86A77.2 77.2 0 0 1 123.35 251.43L125.04 246.1A71.6 71.6 0 0 0 126.32 246.49ZM71.39 194.81A77.2 77.2 0 0 1 71.15 193.73L76.63 192.58A71.6 71.6 0 0 0 76.85 193.58ZM103.56 113.83A77.2 77.2 0 0 1 104.22 113.39L107.31 118.06A71.6 71.6 0 0 0 106.69 118.47Z"/>
<path fill="#10a0e8" d="M181.67 60.34A122.6 122.6 0 0 1 182.68 60.65L181.04 66A117 117 0 0 0 180.07 65.71ZM210.7 73.28A122.6 122.6 0 0 1 211.71 73.9L208.74 78.65A117 117 0 0 0 207.78 78.06ZM249.58 111.17A122.6 122.6 0 0 1 250.54 112.67L245.79 115.65A117 117 0 0 0 244.88 114.22ZM251.26 113.84A122.6 122.6 0 0 1 252.04 115.13L247.23 117.99A117 117 0 0 0 246.49 116.76ZM266.58 152.19A122.6 122.6 0 0 1 266.8 153.2L261.31 154.32A117 117 0 0 0 261.11 153.36ZM268.83 188.52A122.6 122.6 0 0 1 268.66 190.38L263.09 189.81A117 117 0 0 0 263.26 188.04ZM254.12 236.93A122.6 122.6 0 0 1 253.6 237.88L248.72 235.14A117 117 0 0 0 249.22 234.23ZM253.68 237.73A122.6 122.6 0 0 1 253.09 238.77L248.23 235.99A117 117 0 0 0 248.79 235ZM234.62 263.29A122.6 122.6 0 0 1 233.93 264L229.94 260.07A117 117 0 0 0 230.61 259.39ZM229.18 268.55A122.6 122.6 0 0 1 228.41 269.26L224.67 265.08A117 117 0 0 0 225.42 264.41ZM216.91 278.36A122.6 122.6 0 0 1 216.1 278.91L212.93 274.3A117 117 0 0 0 213.7 273.77ZM154.52 254.65A77.2 77.2 0 0 1 153.45 254.75L152.96 249.18A71.6 71.6 0 0 0 153.96 249.08ZM117.8 249.44A77.2 77.2 0 0 1 116.74 249L118.91 243.84A71.6 71.6 0 0 0 119.9 244.24ZM107.69 244.47A77.2 77.2 0 0 1 107.03 244.08L109.91 239.27A71.6 71.6 0 0 0 110.52 239.64ZM84.29 223.29A77.2 77.2 0 0 1 83.64 222.39L88.22 219.16A71.6 71.6 0 0 0 88.82 219.99ZM78.2 142.24A77.2 77.2 0 0 1 78.56 141.57L83.5 144.2A71.6 71.6 0 0 0 83.17 144.83ZM105.69 112.45A77.2 77.2 0 0 1 106.85 111.73L109.74 116.53A71.6 71.6 0 0 0 108.66 117.19ZM106.76 111.79A77.2 77.2 0 0 1 107.98 111.06L110.79 115.9A71.6 71.6 0 0 0 109.66 116.58Z"/>
<path fill="#e810c8" d="M201.96 68.41A122.6 122.6 0 0 1 203.35 69.12L200.76 74.09A117 117 0 0 0 199.43 73.41ZM260.21 131.53A122.6 122.6 0 0 1 260.81 133.01L255.59 135.06A117 117 0 0 0 255.03 133.64ZM263.21 216.01A122.6 122.6 0 0 1 262.75 217.38L257.45 215.57A117 117 0 0 0 257.89 214.27ZM258.61 227.92A122.6 122.6 0 0 1 257.91 229.46L252.83 227.1A117 117 0 0 0 253.5 225.63ZM210.63 282.46A122.6 122.6 0 0 1 209.26 283.28L206.41 278.47A117 117 0 0 0 207.71 277.68ZM163.31 253.24A77.2 77.2 0 0 1 162.67 253.38L161.52 247.9A71.6 71.6 0 0 0 162.11 247.77ZM88.6 127.02A77.2 77.2 0 0 1 89.16 126.38L93.33 130.12A71.6 71.6 0 0 0 92.81 130.7Z"/>
<path fill="#d8a010" d="M241.51 100.12A122.6 122.6 0 0 1 242.6 101.47L238.22 104.96A117 117 0 0 0 237.18 103.67ZM134.18 254.03A77.2 77.2 0 0 1 132.95 253.82L133.95 248.31A71.6 71.6 0 0 0 135.09 248.5ZM97.99 237.74A77.2 77.2 0 0 1 97.32 237.19L100.9 232.89A71.6 71.6 0 0 0 101.52 233.4ZM71.17 161.9A77.2 77.2 0 0 1 71.42 160.74L76.88 161.98A71.6 71.6 0 0 0 76.64 163.06ZM113.13 108.33A77.2 77.2 0 0 1 113.93 107.95L116.3 113.02A71.6 71.6 0 0 0 115.56 113.38Z"/>
<path fill="#6a30f8" d="M257.26 124.87A122.6 122.6 0 0 1 257.83 126.07L252.75 128.44A117 117 0 0 0 252.21 127.29ZM267.64 157.72A122.6 122.6 0 0 1 267.79 158.65L262.26 159.53A117 117 0 0 0 262.11 158.64ZM265.81 206.9A122.6 122.6 0 0 1 265.61 207.69L260.18 206.32A117 117 0 0 0 260.37 205.57ZM257.07 231.23A122.6 122.6 0 0 1 256.52 232.36L251.5 229.87A117 117 0 0 0 252.03 228.79ZM232.63 265.3A122.6 122.6 0 0 1 231.93 265.98L228.04 261.95A117 117 0 0 0 228.7 261.3ZM223.07 273.75A122.6 122.6 0 0 1 222.14 274.49L218.69 270.08A117 117 0 0 0 219.59 269.37ZM215.51 279.32A122.6 122.6 0 0 1 214.81 279.79L211.7 275.13A117 117 0 0 0 212.37 274.68ZM209.41 283.2A122.6 122.6 0 0 1 208.16 283.93L205.36 279.08A117 117 0 0 0 206.55 278.38ZM196.05 290.08A122.6 122.6 0 0 1 194.56 290.72L192.37 285.57A117 117 0 0 0 193.79 284.95ZM193.66 291.1A122.6 122.6 0 0 1 192.86 291.43L190.75 286.24A117 117 0 0 0 191.51 285.93ZM173.65 250.19A77.2 77.2 0 0 1 173.03 250.42L171.12 245.16A71.6 71.6 0 0 0 171.7 244.95ZM149.67 254.99A77.2 77.2 0 0 1 148.81 255.02L148.66 249.42A71.6 71.6 0 0 0 149.45 249.4ZM101.88 240.71A77.2 77.2 0 0 1 100.81 239.93L104.14 235.43A71.6 71.6 0 0 0 105.13 236.15ZM88.85 228.97A77.2 77.2 0 0 1 88.16 228.17L92.4 224.52A71.6 71.6 0 0 0 93.05 225.26ZM83.71 222.48A77.2 77.2 0 0 1 82.92 221.34L87.54 218.19A71.6 71.6 0 0 0 88.28 219.24ZM80.26 217.16A77.2 77.2 0 0 1 79.59 216.01L84.46 213.24A71.6 71.6 0 0 0 85.08 214.31ZM70.55 165.19A77.2 77.2 0 0 1 70.72 164.19L76.23 165.18A71.6 71.6 0 0 0 76.07 166.11ZM90.27 125.17A77.2 77.2 0 0 1 91.19 124.19L95.22 128.09A71.6 71.6 0 0 0 94.36 128.99ZM117.13 106.54A77.2 77.2 0 0 1 118.14 106.13L120.22 111.33A71.6 71.6 0 0 0 119.27 111.71ZM121.13 105.01A77.2 77.2 0 0 1 122.36 104.59L124.12 109.9A71.6 71.6 0 0 0 122.98 110.29Z"/>
<path fill="#cc00dd" d="M264.82 145.02A122.6 122.6 0 0 1 265.08 145.96L259.67 147.42A117 117 0 0 0 259.43 146.52ZM256.59 232.2A122.6 122.6 0 0 1 256.11 233.18L251.11 230.65A117 117 0 0 0 251.57 229.72ZM70.34 189.19A77.2 77.2 0 0 1 70.23 188.41L75.77 187.64A71.6 71.6 0 0 0 75.88 188.37ZM72.38 156.97A77.2 77.2 0 0 1 72.78 155.6L78.14 157.22A71.6 71.6 0 0 0 77.77 158.49ZM80.88 137.51A77.2 77.2 0 0 1 81.36 136.73L86.1 139.71A71.6 71.6 0 0 0 85.65 140.44ZM92.94 122.44A77.2 77.2 0 0 1 93.61 121.8L97.46 125.87A71.6 71.6 0 0 0 96.84 126.46Z"/>
<path fill="#9a10f0" d="M267.23 155.4A122.6 122.6 0 0 1 267.46 156.69L261.94 157.66A117 117 0 0 0 261.72 156.43ZM257.63 230.06A122.6 122.6 0 0 1 256.99 231.38L251.96 228.94A117 117 0 0 0 252.56 227.68ZM255.46 234.44A122.6 122.6 0 0 1 254.91 235.48L249.97 232.85A117 117 0 0 0 250.49 231.85ZM247.87 247.1A122.6 122.6 0 0 1 247.08 248.24L242.5 245.02A117 117 0 0 0 243.25 243.93ZM239.66 257.78A122.6 122.6 0 0 1 238.44 259.18L234.25 255.47A117 117 0 0 0 235.41 254.13ZM237.44 260.3A122.6 122.6 0 0 1 236.2 261.64L232.11 257.81A117 117 0 0 0 233.29 256.53ZM159.37 254A77.2 77.2 0 0 1 158.14 254.2L157.31 248.66A71.6 71.6 0 0 0 158.45 248.48ZM155.73 254.52A77.2 77.2 0 0 1 154.42 254.66L153.86 249.09A71.6 71.6 0 0 0 155.08 248.96ZM132.43 253.72A77.2 77.2 0 0 1 131.7 253.58L132.79 248.09A71.6 71.6 0 0 0 133.46 248.22ZM108.45 244.91A77.2 77.2 0 0 1 107.6 244.42L110.44 239.59A71.6 71.6 0 0 0 111.22 240.04ZM72.16 197.94A77.2 77.2 0 0 1 71.87 196.84L77.3 195.47A71.6 71.6 0 0 0 77.57 196.48ZM69.63 182.33A77.2 77.2 0 0 1 69.59 181.52L75.18 181.25A71.6 71.6 0 0 0 75.22 182.01ZM72.74 155.7A77.2 77.2 0 0 1 73.16 154.37L78.49 156.07A71.6 71.6 0 0 0 78.11 157.31ZM102.35 114.66A77.2 77.2 0 0 1 103.05 114.17L106.22 118.79A71.6 71.6 0 0 0 105.57 119.24Z"/>
<path fill="#ff6a10" d="M268.44 163.33A122.6 122.6 0 0 1 268.59 164.69L263.02 165.29A117 117 0 0 0 262.88 163.99ZM170.22 251.38A77.2 77.2 0 0 1 168.84 251.81L167.23 246.44A71.6 71.6 0 0 0 168.51 246.05ZM141.74 254.89A77.2 77.2 0 0 1 140.64 254.81L141.08 249.23A71.6 71.6 0 0 0 142.1 249.3ZM109.54 245.52A77.2 77.2 0 0 1 108.36 244.85L111.14 239.99A71.6 71.6 0 0 0 112.24 240.61ZM76.94 210.92A77.2 77.2 0 0 1 76.64 210.28L81.72 207.93A71.6 71.6 0 0 0 82 208.52ZM70.24 167.19A77.2 77.2 0 0 1 70.38 166.26L75.91 167.1A71.6 71.6 0 0 0 75.79 167.97Z"/>
<path fill="#4848f8" d="M269.06 170.14A122.6 122.6 0 0 1 269.11 170.98L263.52 171.3A117 117 0 0 0 263.47 170.49ZM243.06 253.65A122.6 122.6 0 0 1 242.24 254.68L237.88 251.17A117 117 0 0 0 238.66 250.18ZM233.52 264.41A122.6 122.6 0 0 1 232.51 265.42L228.59 261.42A117 117 0 0 0 229.56 260.46ZM206.36 284.96A122.6 122.6 0 0 1 204.99 285.71L202.33 280.78A117 117 0 0 0 203.63 280.06ZM205.14 285.62A122.6 122.6 0 0 1 203.92 286.28L201.3 281.33A117 117 0 0 0 202.47 280.7ZM105.93 243.41A77.2 77.2 0 0 1 105.32 243.02L108.32 238.29A71.6 71.6 0 0 0 108.89 238.65ZM70.7 164.29A77.2 77.2 0 0 1 70.87 163.39L76.37 164.44A71.6 71.6 0 0 0 76.21 165.28ZM112.33 108.72A77.2 77.2 0 0 1 113.22 108.29L115.65 113.33A71.6 71.6 0 0 0 114.83 113.74ZM125.11 103.73A77.2 77.2 0 0 1 125.75 103.55L127.27 108.94A71.6 71.6 0 0 0 126.67 109.11Z"/>
<path fill="#ff5522" d="M269.28 179.95A122.6 122.6 0 0 1 269.26 181.11L263.66 180.96A117 117 0 0 0 263.68 179.85ZM74.41 150.77A77.2 77.2 0 0 1 74.81 149.71L80.03 151.75A71.6 71.6 0 0 0 79.65 152.73Z"/>
<path fill="#f52040" d="M267.55 198.49A122.6 122.6 0 0 1 267.27 200.07L261.76 199.06A117 117 0 0 0 262.03 197.55ZM134.78 254.12A77.2 77.2 0 0 1 134.07 254.01L134.99 248.49A71.6 71.6 0 0 0 135.64 248.59ZM98.7 238.31A77.2 77.2 0 0 1 97.91 237.68L101.45 233.34A71.6 71.6 0 0 0 102.18 233.93ZM76.02 208.89A77.2 77.2 0 0 1 75.68 208.11L80.83 205.91A71.6 71.6 0 0 0 81.14 206.64ZM73.11 201.19A77.2 77.2 0 0 1 72.8 200.17L78.16 198.55A71.6 71.6 0 0 0 78.45 199.5Z"/>
<path fill="#10f010" d="M185.81 294.05A122.6 122.6 0 0 1 184.53 294.47L182.8 289.14A117 117 0 0 0 184.02 288.74ZM142 300.36A122.6 122.6 0 0 1 139.36 300.23L139.7 294.64A117 117 0 0 0 142.21 294.76ZM137.19 300.08A122.6 122.6 0 0 1 134.89 299.88L135.43 294.31A117 117 0 0 0 137.62 294.5ZM107.18 293.9A122.6 122.6 0 0 1 105.56 293.34L107.44 288.07A117 117 0 0 0 108.98 288.6ZM88.28 285.64A122.6 122.6 0 0 1 86.37 284.58L89.13 279.7A117 117 0 0 0 90.95 280.72ZM62.04 266.53A122.6 122.6 0 0 1 60.46 264.99L64.39 261.01A117 117 0 0 0 65.91 262.48ZM52.67 256.52A122.6 122.6 0 0 1 51.6 255.22L55.94 251.69A117 117 0 0 0 56.96 252.92ZM29.35 213.36A122.6 122.6 0 0 1 28.97 212.04L34.34 210.48A117 117 0 0 0 34.71 211.74ZM24.17 182.06A122.6 122.6 0 0 1 24.13 180.34L29.72 180.22A117 117 0 0 0 29.77 181.86ZM24.12 179.78A122.6 122.6 0 0 1 24.1 177.8L29.7 177.8A117 117 0 0 0 29.71 179.69ZM44.5 110.13A122.6 122.6 0 0 1 45.79 108.22L50.4 111.4A117 117 0 0 0 49.17 113.22ZM140 100.94A77.2 77.2 0 0 1 141.64 100.82L142 106.4A71.6 71.6 0 0 0 140.49 106.52ZM170.72 104.48A77.2 77.2 0 0 1 171.97 104.9L170.14 110.2A71.6 71.6 0 0 0 168.98 109.8ZM194.31 117.08A77.2 77.2 0 0 1 195.76 118.24L192.2 122.57A71.6 71.6 0 0 0 190.86 121.49ZM211.3 135.58A77.2 77.2 0 0 1 212.53 137.53L207.76 140.45A71.6 71.6 0 0 0 206.61 138.64ZM220.59 155.48A77.2 77.2 0 0 1 221.05 157.08L215.66 158.58A71.6 71.6 0 0 0 215.23 157.11ZM221.05 157.06A77.2 77.2 0 0 1 221.53 158.86L216.1 160.24A71.6 71.6 0 0 0 215.66 158.57ZM223.75 173A77.2 77.2 0 0 1 223.83 174.57L218.24 174.81A71.6 71.6 0 0 0 218.16 173.35ZM223.89 176.44A77.2 77.2 0 0 1 223.9 178.58L218.3 178.53A71.6 71.6 0 0 0 218.29 176.54ZM223.07 189.12A77.2 77.2 0 0 1 222.75 191.11L217.24 190.15A71.6 71.6 0 0 0 217.53 188.3ZM220.67 199.95A77.2 77.2 0 0 1 220.23 201.36L214.9 199.66A71.6 71.6 0 0 0 215.3 198.35ZM219.99 202.09A77.2 77.2 0 0 1 219.46 203.65L214.18 201.77A71.6 71.6 0 0 0 214.68 200.34ZM191 241.07A77.2 77.2 0 0 1 189.42 242.15L186.32 237.49A71.6 71.6 0 0 0 187.79 236.49ZM181.71 246.66A77.2 77.2 0 0 1 180.37 247.32L177.93 242.28A71.6 71.6 0 0 0 179.17 241.66Z"/>
<path fill="#30e010" d="M183.64 294.75A122.6 122.6 0 0 1 181.69 295.35L180.09 289.98A117 117 0 0 0 181.95 289.41ZM68 271.86A122.6 122.6 0 0 1 66.07 270.2L69.75 265.98A117 117 0 0 0 71.6 267.56ZM43.36 243.82A122.6 122.6 0 0 1 41.93 241.52L46.72 238.62A117 117 0 0 0 48.08 240.81ZM32.16 221.57A122.6 122.6 0 0 1 31.64 220.18L36.9 218.25A117 117 0 0 0 37.39 219.57ZM64.63 86.77A122.6 122.6 0 0 1 66.32 85.28L69.99 89.51A117 117 0 0 0 68.38 90.93ZM183.29 245.83A77.2 77.2 0 0 1 181.9 246.56L179.35 241.57A71.6 71.6 0 0 0 180.63 240.9Z"/>
<path fill="#9a10f0" fill-opacity="0.9" d="M177.55 296.51A122.6 122.6 0 0 1 176.24 296.84L174.89 291.4A117 117 0 0 0 176.14 291.09ZM46.41 248.37A122.6 122.6 0 0 1 45.27 246.72L49.9 243.57A117 117 0 0 0 50.99 245.14Z"/>
<path fill="#30e010" fill-opacity="0.8" d="M174.3 297.3A122.6 122.6 0 0 1 172.93 297.61L171.73 292.14A117 117 0 0 0 173.04 291.85ZM26.49 201.95A122.6 122.6 0 0 1 26.08 199.77L31.59 198.77A117 117 0 0 0 31.98 200.85Z"/>
<path fill="#10a0e8" fill-opacity="0.9" d="M171.8 297.85A122.6 122.6 0 0 1 170.1 298.2L169.04 292.7A117 117 0 0 0 170.65 292.37ZM24.68 165.96A122.6 122.6 0 0 1 24.89 163.94L30.46 164.57A117 117 0 0 0 30.25 166.5ZM157.07 101.35A77.2 77.2 0 0 1 158.9 101.62L158.01 107.15A71.6 71.6 0 0 0 156.32 106.9Z"/>
<path fill="#10a0e8" d="M166.75 298.8A122.6 122.6 0 0 1 164.27 299.18L163.47 293.64A117 117 0 0 0 165.83 293.27ZM91.67 287.41A122.6 122.6 0 0 1 90.12 286.61L92.7 281.64A117 117 0 0 0 94.18 282.4ZM84.38 283.43A122.6 122.6 0 0 1 83.18 282.71L86.08 277.92A117 117 0 0 0 87.23 278.61ZM65.63 269.82A122.6 122.6 0 0 1 64.33 268.66L68.1 264.51A117 117 0 0 0 69.34 265.62ZM39.95 238.14A122.6 122.6 0 0 1 39.32 237.01L44.22 234.3A117 117 0 0 0 44.82 235.38Z"/>
<path fill="#6a30f8" fill-opacity="0.9" d="M162.23 299.46A122.6 122.6 0 0 1 160.72 299.65L160.08 294.08A117 117 0 0 0 161.52 293.91ZM152.84 300.3A122.6 122.6 0 0 1 151.19 300.37L150.98 294.77A117 117 0 0 0 152.56 294.7ZM80.64 281.13A122.6 122.6 0 0 1 78.44 279.69L81.56 275.04A117 117 0 0 0 83.66 276.41ZM159.83 101.77A77.2 77.2 0 0 1 161.99 102.18L160.88 107.67A71.6 71.6 0 0 0 158.87 107.29Z"/>
<path fill="#0cf024" d="M146.67 300.45A122.6 122.6 0 0 1 144.45 300.43L144.55 294.83A117 117 0 0 0 146.67 294.85ZM114.94 296.27A122.6 122.6 0 0 1 113.51 295.87L115.03 290.48A117 117 0 0 0 116.39 290.86ZM34.35 128.79A122.6 122.6 0 0 1 34.95 127.43L40.05 129.73A117 117 0 0 0 39.48 131.03ZM74.66 78.65A122.6 122.6 0 0 1 75.69 77.91L78.93 82.47A117 117 0 0 0 77.95 83.18ZM78.09 76.25A122.6 122.6 0 0 1 79.61 75.24L82.67 79.92A117 117 0 0 0 81.22 80.89ZM167.54 103.52A77.2 77.2 0 0 1 169.2 104L167.57 109.36A71.6 71.6 0 0 0 166.03 108.91Z"/>
<path fill="#14f07c" fill-opacity="0.9" d="M131.07 299.45A122.6 122.6 0 0 1 129.45 299.23L130.24 293.69A117 117 0 0 0 131.79 293.9ZM110.71 295.05A122.6 122.6 0 0 1 108.11 294.22L109.87 288.9A117 117 0 0 0 112.35 289.69ZM27.14 204.97A122.6 122.6 0 0 1 26.7 202.94L32.18 201.8A117 117 0 0 0 32.6 203.73ZM36.9 123.32A122.6 122.6 0 0 1 37.69 121.75L42.67 124.32A117 117 0 0 0 41.91 125.81ZM210.5 134.39A77.2 77.2 0 0 1 211.34 135.65L206.65 138.71A71.6 71.6 0 0 0 205.88 137.54Z"/>
<path fill="#0cf066" fill-opacity="0.9" d="M125.24 298.56A122.6 122.6 0 0 1 122.55 298.05L123.66 292.56A117 117 0 0 0 126.22 293.04ZM208.99 223.46A77.2 77.2 0 0 1 207.77 225.07L203.34 221.65A71.6 71.6 0 0 0 204.47 220.15Z"/>
<path fill="#10e27f" fill-opacity="0.9" d="M120.84 297.69A122.6 122.6 0 0 1 118.47 297.16L119.76 291.71A117 117 0 0 0 122.02 292.22Z"/>
<path fill="#1570f0" d="M104.45 292.94A122.6 122.6 0 0 1 102.47 292.19L104.49 286.97A117 117 0 0 0 106.38 287.68ZM81.54 74A122.6 122.6 0 0 1 83.54 72.77L86.42 77.57A117 117 0 0 0 84.52 78.74Z"/>
<path fill="#d8a010" fill-opacity="0.9" d="M94.69 288.87A122.6 122.6 0 0 1 92.51 287.82L94.98 282.8A117 117 0 0 0 97.06 283.8ZM24.3 184.89A122.6 122.6 0 0 1 24.22 183.27L29.81 183.03A117 117 0 0 0 29.89 184.57Z"/>
<path fill="#0cf024" fill-opacity="0.9" d="M76.03 278.04A122.6 122.6 0 0 1 74.72 277.09L78.01 272.56A117 117 0 0 0 79.26 273.46ZM28.28 209.59A122.6 122.6 0 0 1 27.98 208.47L33.41 207.07A117 117 0 0 0 33.69 208.14Z"/>
<path fill="#20d8a8" d="M73.1 275.9A122.6 122.6 0 0 1 72.2 275.22L75.6 270.77A117 117 0 0 0 76.46 271.42ZM49.96 253.16A122.6 122.6 0 0 1 48.48 251.22L52.97 247.87A117 117 0 0 0 54.38 249.72ZM26.84 152.08A122.6 122.6 0 0 1 27.11 150.83L32.58 152.07A117 117 0 0 0 32.31 153.25ZM185.73 111.24A77.2 77.2 0 0 1 187.01 112.01L184.08 116.78A71.6 71.6 0 0 0 182.9 116.08ZM223.79 182.02A77.2 77.2 0 0 1 223.64 184.15L218.06 183.7A71.6 71.6 0 0 0 218.2 181.72ZM218.99 204.95A77.2 77.2 0 0 1 218.29 206.74L213.1 204.65A71.6 71.6 0 0 0 213.74 202.99ZM191.86 240.47A77.2 77.2 0 0 1 190.85 241.18L187.65 236.59A71.6 71.6 0 0 0 188.58 235.92ZM178.48 248.21A77.2 77.2 0 0 1 176.53 249.05L174.37 243.89A71.6 71.6 0 0 0 176.17 243.1Z"/>
<path fill="#4848f8" fill-opacity="0.9" d="M69.95 273.45A122.6 122.6 0 0 1 68.84 272.55L72.39 268.22A117 117 0 0 0 73.45 269.08Z"/>
<path fill="#9a10f0" d="M56.23 260.59A122.6 122.6 0 0 1 54.72 258.91L58.92 255.21A117 117 0 0 0 60.37 256.81ZM25.42 195.79A122.6 122.6 0 0 1 25.26 194.7L30.81 193.93A117 117 0 0 0 30.96 194.97ZM207.8 225.04A77.2 77.2 0 0 1 206.59 226.56L202.25 223.03A71.6 71.6 0 0 0 203.37 221.61Z"/>
<path fill="#10e27f" d="M54.14 258.25A122.6 122.6 0 0 1 53.3 257.27L57.56 253.64A117 117 0 0 0 58.37 254.58ZM24.85 191.35A122.6 122.6 0 0 1 24.66 189.51L30.23 188.98A117 117 0 0 0 30.41 190.74ZM71.93 80.69A122.6 122.6 0 0 1 72.91 79.94L76.28 84.41A117 117 0 0 0 75.34 85.13ZM85.99 71.34A122.6 122.6 0 0 1 87.41 70.54L90.12 75.44A117 117 0 0 0 88.76 76.2ZM163.09 102.41A77.2 77.2 0 0 1 164.41 102.71L163.12 108.16A71.6 71.6 0 0 0 161.9 107.88ZM164.59 102.75A77.2 77.2 0 0 1 165.99 103.1L164.59 108.52A71.6 71.6 0 0 0 163.29 108.2ZM173.75 105.54A77.2 77.2 0 0 1 175.47 106.21L173.38 111.41A71.6 71.6 0 0 0 171.79 110.79ZM205.08 127.33A77.2 77.2 0 0 1 206.44 128.96L202.11 132.5A71.6 71.6 0 0 0 200.84 131ZM208.38 131.42A77.2 77.2 0 0 1 209.28 132.65L204.74 135.93A71.6 71.6 0 0 0 203.9 134.79ZM216.65 145.19A77.2 77.2 0 0 1 217.21 146.43L212.1 148.7A71.6 71.6 0 0 0 211.58 147.56ZM203.31 230.34A77.2 77.2 0 0 1 202.28 231.43L198.24 227.55A71.6 71.6 0 0 0 199.2 226.53Z"/>
<path fill="#14f07c" d="M40.95 239.89A122.6 122.6 0 0 1 40.36 238.87L45.22 236.08A117 117 0 0 0 45.78 237.05ZM34 226.12A122.6 122.6 0 0 1 33.34 224.55L38.52 222.42A117 117 0 0 0 39.15 223.92ZM25.41 160A122.6 122.6 0 0 1 25.68 158.24L31.21 159.14A117 117 0 0 0 30.95 160.82ZM26.05 156.05A122.6 122.6 0 0 1 26.36 154.42L31.86 155.49A117 117 0 0 0 31.56 157.05ZM115.94 59.17A122.6 122.6 0 0 1 117.36 58.81L118.7 64.25A117 117 0 0 0 117.34 64.59ZM133.69 101.75A77.2 77.2 0 0 1 135.61 101.45L136.41 106.99A71.6 71.6 0 0 0 134.63 107.27ZM150.04 100.72A77.2 77.2 0 0 1 151.38 100.79L151.04 106.38A71.6 71.6 0 0 0 149.79 106.32ZM151.35 100.79A77.2 77.2 0 0 1 152.74 100.89L152.3 106.47A71.6 71.6 0 0 0 151.01 106.38ZM197.74 119.93A77.2 77.2 0 0 1 198.89 120.96L195.1 125.09A71.6 71.6 0 0 0 194.04 124.13ZM206.49 129.02A77.2 77.2 0 0 1 207.56 130.35L203.14 133.79A71.6 71.6 0 0 0 202.16 132.56ZM219.23 151.42A77.2 77.2 0 0 1 219.66 152.61L214.37 154.44A71.6 71.6 0 0 0 213.97 153.34ZM215.71 212.45A77.2 77.2 0 0 1 214.78 214.25L209.84 211.61A71.6 71.6 0 0 0 210.71 209.94Z"/>
<path fill="#d8a010" d="M38.82 236.11A122.6 122.6 0 0 1 38.3 235.13L43.25 232.51A117 117 0 0 0 43.75 233.44ZM27.66 148.53A122.6 122.6 0 0 1 28.32 145.97L33.72 147.43A117 117 0 0 0 33.09 149.87Z"/>
<path fill="#a8b800" fill-opacity="0.9" d="M36.87 232.34A122.6 122.6 0 0 1 35.65 229.8L40.72 227.42A117 117 0 0 0 41.89 229.85ZM31.02 137.24A122.6 122.6 0 0 1 31.58 135.67L36.84 137.6A117 117 0 0 0 36.3 139.1ZM177.22 106.94A77.2 77.2 0 0 1 178.98 107.72L176.64 112.81A71.6 71.6 0 0 0 175.01 112.08Z"/>
<path fill="#0cf066" d="M30.45 216.78A122.6 122.6 0 0 1 29.99 215.38L35.32 213.67A117 117 0 0 0 35.76 215ZM53.15 98.61A122.6 122.6 0 0 1 54.83 96.67L59.03 100.38A117 117 0 0 0 57.43 102.23ZM104.88 62.6A122.6 122.6 0 0 1 106.84 61.91L108.66 67.21A117 117 0 0 0 106.79 67.87ZM214.53 140.99A77.2 77.2 0 0 1 215.12 142.09L210.15 144.68A71.6 71.6 0 0 0 209.61 143.66ZM223.59 170.96A77.2 77.2 0 0 1 223.73 172.75L218.14 173.12A71.6 71.6 0 0 0 218.01 171.46ZM213.73 216.15A77.2 77.2 0 0 1 212.75 217.81L207.96 214.91A71.6 71.6 0 0 0 208.87 213.37ZM189.5 242.1A77.2 77.2 0 0 1 188.48 242.77L185.45 238.06A71.6 71.6 0 0 0 186.39 237.44Z"/>
<path fill="#10f010" fill-opacity="0.8" d="M24.16 173.96A122.6 122.6 0 0 1 24.28 171.21L29.87 171.51A117 117 0 0 0 29.76 174.14ZM201.32 123.3A77.2 77.2 0 0 1 202.75 124.76L198.68 128.61A71.6 71.6 0 0 0 197.36 127.25Z"/>
<path fill="#1cb8d6" fill-opacity="0.9" d="M29.43 142.1A122.6 122.6 0 0 1 30.05 140.12L35.38 141.84A117 117 0 0 0 34.78 143.74ZM40.35 116.86A122.6 122.6 0 0 1 41.33 115.18L46.14 118.05A117 117 0 0 0 45.2 119.65Z"/>
<path fill="#f52040" fill-opacity="0.9" d="M32.76 132.58A122.6 122.6 0 0 1 33.19 131.53L38.37 133.65A117 117 0 0 0 37.97 134.65Z"/>
<path fill="#10f010" fill-opacity="0.9" d="M51.03 101.18A122.6 122.6 0 0 1 52.54 99.34L56.84 102.92A117 117 0 0 0 55.4 104.68ZM67.86 83.96A122.6 122.6 0 0 1 69.62 82.51L73.14 86.87A117 117 0 0 0 71.46 88.25ZM70.11 82.12A122.6 122.6 0 0 1 71.5 81.02L74.94 85.44A117 117 0 0 0 73.61 86.49ZM123.23 57.52A122.6 122.6 0 0 1 125.59 57.08L126.55 62.6A117 117 0 0 0 124.3 63.01ZM138.42 101.1A77.2 77.2 0 0 1 140.2 100.92L140.68 106.5A71.6 71.6 0 0 0 139.02 106.66ZM148.75 100.68A77.2 77.2 0 0 1 150 100.72L149.76 106.32A71.6 71.6 0 0 0 148.6 106.28ZM182.93 109.68A77.2 77.2 0 0 1 184.42 110.49L181.69 115.38A71.6 71.6 0 0 0 180.3 114.62ZM204.12 126.25A77.2 77.2 0 0 1 204.95 127.19L200.72 130.86A71.6 71.6 0 0 0 199.96 130ZM222.68 164.18A77.2 77.2 0 0 1 223.02 166.22L217.48 167.06A71.6 71.6 0 0 0 217.17 165.17Z"/>
<path fill="#1570f0" fill-opacity="0.9" d="M56.23 95.11A122.6 122.6 0 0 1 58.1 93.11L62.15 96.98A117 117 0 0 0 60.36 98.89Z"/>
<path fill="#20d8a8" fill-opacity="0.8" d="M61.77 89.43A122.6 122.6 0 0 1 62.7 88.54L66.54 92.62A117 117 0 0 0 65.65 93.47Z"/>
<path fill="#cc00dd" fill-opacity="0.9" d="M89.55 69.39A122.6 122.6 0 0 1 92.02 68.12L94.51 73.13A117 117 0 0 0 92.16 74.34Z"/>
<path fill="#f5105a" fill-opacity="0.8" d="M96.94 65.8A122.6 122.6 0 0 1 99.23 64.81L101.4 69.98A117 117 0 0 0 99.21 70.92ZM144.41 100.68A77.2 77.2 0 0 1 145.89 100.65L145.95 106.25A71.6 71.6 0 0 0 144.58 106.28Z"/>
<path fill="#0cf024" fill-opacity="0.8" d="M101.19 64.01A122.6 122.6 0 0 1 102.55 63.48L104.57 68.7A117 117 0 0 0 103.27 69.21ZM110.74 60.64A122.6 122.6 0 0 1 113.1 59.94L114.63 65.33A117 117 0 0 0 112.39 65.99ZM213.95 139.93A77.2 77.2 0 0 1 214.61 141.13L209.68 143.79A71.6 71.6 0 0 0 209.07 142.68Z"/>
<path fill="#f0920f" d="M129.55 63.12A116 116 0 0 1 137.52 62.21L137.99 68.1A110.1 110.1 0 0 0 130.43 68.96ZM138.21 62.16A116 116 0 0 1 224.03 91.39L220.1 95.78A110.1 110.1 0 0 0 138.64 68.05ZM224.48 91.79A116 116 0 0 1 252.1 129.41L246.74 131.87A110.1 110.1 0 0 0 220.53 96.17ZM252.37 129.99A116 116 0 0 1 258.01 145.21L252.35 146.87A110.1 110.1 0 0 0 246.99 132.43ZM258.15 145.66A116 116 0 0 1 258.71 147.68L253.01 149.22A110.1 110.1 0 0 0 252.48 147.3ZM258.86 148.24A116 116 0 0 1 262.52 171.39L256.63 171.72A110.1 110.1 0 0 0 253.15 149.75ZM262.56 172.09A116 116 0 0 1 212.37 273.47L209.03 268.61A110.1 110.1 0 0 0 256.66 172.38ZM211.81 273.86A116 116 0 0 1 186.18 286.92L184.18 281.38A110.1 110.1 0 0 0 208.49 268.97ZM186.57 277.04A106.9 106.9 0 0 1 111.77 278.88L113.75 273.16A100.85 100.85 0 0 0 184.32 271.42ZM111.29 278.72A106.9 106.9 0 0 1 109.17 277.94L111.29 272.28A100.85 100.85 0 0 0 113.3 273.01ZM108.83 277.82A106.9 106.9 0 0 1 41.01 161.8L46.99 162.71A100.85 100.85 0 0 0 110.97 272.16ZM41.1 161.24A106.9 106.9 0 0 1 110.89 77.13L112.91 82.83A100.85 100.85 0 0 0 47.07 162.18ZM111.29 76.99A106.9 106.9 0 0 1 127.4 72.71L128.49 78.66A100.85 100.85 0 0 0 113.29 82.69Z"/>
<path fill="#f0920f" fill-opacity="0.8" d="M183.7 287.79A116 116 0 0 1 182.49 288.19L180.67 282.58A110.1 110.1 0 0 0 181.82 282.2ZM181.65 288.46A116 116 0 0 1 179.8 289.03L178.12 283.37A110.1 110.1 0 0 0 179.88 282.83ZM165.67 292.29A116 116 0 0 1 163.33 292.65L162.48 286.81A110.1 110.1 0 0 0 164.71 286.47ZM142.25 293.76A116 116 0 0 1 139.76 293.64L140.11 287.75A110.1 110.1 0 0 0 142.48 287.87ZM116.65 289.89A116 116 0 0 1 115.3 289.52L116.9 283.84A110.1 110.1 0 0 0 118.18 284.19ZM91.43 279.84A116 116 0 0 1 89.62 278.83L92.52 273.7A110.1 110.1 0 0 0 94.24 274.65ZM72.24 266.8A116 116 0 0 1 70.41 265.23L74.29 260.79A110.1 110.1 0 0 0 76.03 262.27ZM66.6 261.75A116 116 0 0 1 65.1 260.29L69.25 256.1A110.1 110.1 0 0 0 70.67 257.49ZM36.7 214.68A116 116 0 0 1 36.27 213.36L41.89 211.55A110.1 110.1 0 0 0 42.3 212.81ZM34.07 150.11A116 116 0 0 1 34.69 147.69L40.39 149.22A110.1 110.1 0 0 0 39.79 151.52ZM75.95 85.92A116 116 0 0 1 76.88 85.21L80.43 89.92A110.1 110.1 0 0 0 79.55 90.6ZM78.53 83.99A116 116 0 0 1 79.51 83.29L82.93 88.1A110.1 110.1 0 0 0 82 88.76ZM81.78 81.72A116 116 0 0 1 83.22 80.76L86.45 85.7A110.1 110.1 0 0 0 85.09 86.61ZM117.59 65.56A116 116 0 0 1 118.94 65.22L120.35 70.95A110.1 110.1 0 0 0 119.07 71.27ZM129.05 72.42A106.9 106.9 0 0 1 130.97 72.11L131.86 78.1A100.85 100.85 0 0 0 130.05 78.38ZM137.8 71.32A106.9 106.9 0 0 1 139.32 71.21L139.73 77.24A100.85 100.85 0 0 0 138.3 77.35ZM169.76 73.47A106.9 106.9 0 0 1 170.86 73.71L169.49 79.61A100.85 100.85 0 0 0 168.45 79.37ZM175.92 75.02A106.9 106.9 0 0 1 177.5 75.48L175.75 81.28A100.85 100.85 0 0 0 174.26 80.84ZM205.74 88.73A106.9 106.9 0 0 1 206.97 89.56L203.56 94.55A100.85 100.85 0 0 0 202.4 93.77ZM212.92 93.93A106.9 106.9 0 0 1 214.35 95.07L210.52 99.76A100.85 100.85 0 0 0 209.18 98.68ZM229.73 110.52A106.9 106.9 0 0 1 230.74 111.78L225.98 115.52A100.85 100.85 0 0 0 225.03 114.33ZM236.35 119.63A106.9 106.9 0 0 1 237.66 121.7L232.52 124.87A100.85 100.85 0 0 0 231.28 122.92ZM240.81 127.14A106.9 106.9 0 0 1 241.26 128L235.91 130.82A100.85 100.85 0 0 0 235.48 130.01ZM243.72 132.96A106.9 106.9 0 0 1 244.19 134L238.67 136.48A100.85 100.85 0 0 0 238.23 135.5ZM252.4 193.82A106.9 106.9 0 0 1 252.07 195.85L246.11 194.83A100.85 100.85 0 0 0 246.42 192.92ZM250.22 204.53A106.9 106.9 0 0 1 249.81 206.06L243.98 204.46A100.85 100.85 0 0 0 244.36 203.02ZM248.07 211.77A106.9 106.9 0 0 1 247.58 213.22L241.87 211.22A100.85 100.85 0 0 0 242.34 209.85ZM243.91 222.31A106.9 106.9 0 0 1 243.2 223.85L237.73 221.25A100.85 100.85 0 0 0 238.41 219.8ZM239.33 231.21A106.9 106.9 0 0 1 238.36 232.86L233.17 229.75A100.85 100.85 0 0 0 234.09 228.19ZM214.39 260.59A106.9 106.9 0 0 1 213.12 261.61L209.36 256.87A100.85 100.85 0 0 0 210.56 255.91ZM208.93 264.77A106.9 106.9 0 0 1 208.14 265.33L204.66 260.38A100.85 100.85 0 0 0 205.41 259.85ZM205.65 267.03A106.9 106.9 0 0 1 204.86 267.54L201.57 262.47A100.85 100.85 0 0 0 202.32 261.98ZM197.03 272.16A106.9 106.9 0 0 1 195.77 272.82L193 267.45A100.85 100.85 0 0 0 194.18 266.82ZM194.84 273.29A106.9 106.9 0 0 1 193.66 273.88L191 268.45A100.85 100.85 0 0 0 192.12 267.89Z"/>
<path fill="#f0920f" fill-opacity="0.7" d="M175.89 290.12A116 116 0 0 1 174.65 290.43L173.23 284.71A110.1 110.1 0 0 0 174.4 284.41ZM170.44 291.39A116 116 0 0 1 168.84 291.72L167.72 285.93A110.1 110.1 0 0 0 169.24 285.62ZM161.4 292.92A116 116 0 0 1 159.96 293.09L159.29 287.23A110.1 110.1 0 0 0 160.65 287.06ZM152.51 293.7A116 116 0 0 1 150.94 293.77L150.73 287.88A110.1 110.1 0 0 0 152.22 287.81ZM131.91 292.9A116 116 0 0 1 130.38 292.7L131.21 286.86A110.1 110.1 0 0 0 132.67 287.05ZM126.39 292.06A116 116 0 0 1 123.85 291.58L125.01 285.79A110.1 110.1 0 0 0 127.42 286.25ZM122.23 291.24A116 116 0 0 1 119.99 290.73L121.35 284.99A110.1 110.1 0 0 0 123.48 285.47ZM112.64 288.74A116 116 0 0 1 110.19 287.95L112.04 282.35A110.1 110.1 0 0 0 114.38 283.1ZM97.49 282.89A116 116 0 0 1 95.42 281.9L98.03 276.61A110.1 110.1 0 0 0 99.99 277.55ZM84.2 275.57A116 116 0 0 1 82.12 274.21L85.4 269.31A110.1 110.1 0 0 0 87.38 270.6ZM79.84 272.64A116 116 0 0 1 78.59 271.75L82.06 266.98A110.1 110.1 0 0 0 83.24 267.82ZM74.08 268.3A116 116 0 0 1 73.03 267.45L76.78 262.89A110.1 110.1 0 0 0 77.77 263.7ZM51.81 244.57A116 116 0 0 1 50.73 243.01L55.61 239.69A110.1 110.1 0 0 0 56.63 241.18ZM42.79 229.4A116 116 0 0 1 41.63 227L46.97 224.5A110.1 110.1 0 0 0 48.07 226.78ZM34.65 207.88A116 116 0 0 1 34.38 206.82L40.09 205.35A110.1 110.1 0 0 0 40.35 206.35ZM33.57 203.51A116 116 0 0 1 33.16 201.59L38.93 200.39A110.1 110.1 0 0 0 39.33 202.2ZM30.89 184.51A116 116 0 0 1 30.81 182.98L36.71 182.72A110.1 110.1 0 0 0 36.78 184.17ZM31.25 166.6A116 116 0 0 1 31.45 164.69L37.31 165.36A110.1 110.1 0 0 0 37.12 167.17ZM35.74 144.03A116 116 0 0 1 36.33 142.15L41.94 143.96A110.1 110.1 0 0 0 41.38 145.75ZM37.25 139.43A116 116 0 0 1 37.78 137.94L43.32 139.97A110.1 110.1 0 0 0 42.81 141.38ZM38.9 135.02A116 116 0 0 1 39.3 134.03L44.76 136.26A110.1 110.1 0 0 0 44.38 137.2ZM42.81 126.25A116 116 0 0 1 43.56 124.77L48.8 127.47A110.1 110.1 0 0 0 48.09 128.88ZM46.07 120.15A116 116 0 0 1 47 118.56L52.07 121.57A110.1 110.1 0 0 0 51.19 123.08ZM56.18 105.3A116 116 0 0 1 57.61 103.56L62.14 107.34A110.1 110.1 0 0 0 60.79 108.99ZM61.1 99.56A116 116 0 0 1 62.87 97.67L67.13 101.75A110.1 110.1 0 0 0 65.46 103.54ZM72.1 89.02A116 116 0 0 1 73.77 87.65L77.48 92.23A110.1 110.1 0 0 0 75.9 93.54ZM74.23 87.27A116 116 0 0 1 75.55 86.23L79.17 90.89A110.1 110.1 0 0 0 77.92 91.88ZM92.63 75.22A116 116 0 0 1 94.96 74.03L97.59 79.31A110.1 110.1 0 0 0 95.38 80.44ZM124.49 64A116 116 0 0 1 126.72 63.58L127.74 69.4A110.1 110.1 0 0 0 125.62 69.79ZM135.61 71.53A106.9 106.9 0 0 1 137.33 71.36L137.86 77.39A100.85 100.85 0 0 0 136.24 77.54ZM149.92 71A106.9 106.9 0 0 1 150.9 71.03L150.66 77.08A100.85 100.85 0 0 0 149.73 77.05ZM161.43 71.97A106.9 106.9 0 0 1 163.22 72.23L162.29 78.21A100.85 100.85 0 0 0 160.6 77.96ZM165.24 72.57A106.9 106.9 0 0 1 167.51 73L166.33 78.93A100.85 100.85 0 0 0 164.19 78.53ZM189.31 79.81A106.9 106.9 0 0 1 191.06 80.59L188.55 86.09A100.85 100.85 0 0 0 186.9 85.36ZM197.19 83.63A106.9 106.9 0 0 1 198.61 84.4L195.67 89.69A100.85 100.85 0 0 0 194.34 88.96ZM226.47 106.68A106.9 106.9 0 0 1 227.11 107.41L222.56 111.4A100.85 100.85 0 0 0 221.95 110.71ZM235.26 117.98A106.9 106.9 0 0 1 236.01 119.1L230.95 122.43A100.85 100.85 0 0 0 230.25 121.36ZM245.35 136.67A106.9 106.9 0 0 1 245.8 137.78L240.2 140.04A100.85 100.85 0 0 0 239.77 139ZM251.98 159.28A106.9 106.9 0 0 1 252.32 161.37L246.34 162.3A100.85 100.85 0 0 0 246.02 160.34ZM240.26 229.57A106.9 106.9 0 0 1 239.73 230.51L234.47 227.53A100.85 100.85 0 0 0 234.96 226.64ZM232.73 241.31A106.9 106.9 0 0 1 231.5 242.94L226.7 239.26A100.85 100.85 0 0 0 227.86 237.72ZM221.27 254.44A106.9 106.9 0 0 1 219.91 255.74L215.77 251.34A100.85 100.85 0 0 0 217.05 250.11ZM211.64 262.77A106.9 106.9 0 0 1 210.55 263.59L206.93 258.74A100.85 100.85 0 0 0 207.96 257.96ZM203.07 268.68A106.9 106.9 0 0 1 201.05 269.9L197.98 264.69A100.85 100.85 0 0 0 199.88 263.54Z"/>
<path fill="#f0920f" fill-opacity="0.6" d="M172.81 290.87A116 116 0 0 1 171.51 291.17L170.25 285.4A110.1 110.1 0 0 0 171.49 285.12ZM32.96 200.65A116 116 0 0 1 32.57 198.59L38.37 197.54A110.1 110.1 0 0 0 38.75 199.49ZM30.76 174.17A116 116 0 0 1 30.87 171.57L36.76 171.89A110.1 110.1 0 0 0 36.66 174.36ZM66.34 94.19A116 116 0 0 1 67.23 93.35L71.27 97.65A110.1 110.1 0 0 0 70.43 98.45ZM99.62 71.83A116 116 0 0 1 101.78 70.9L104.07 76.34A110.1 110.1 0 0 0 102.01 77.23ZM103.64 70.14A116 116 0 0 1 104.93 69.63L107.05 75.14A110.1 110.1 0 0 0 105.83 75.62ZM112.68 66.95A116 116 0 0 1 114.91 66.29L116.52 71.97A110.1 110.1 0 0 0 114.41 72.59ZM143.9 70.99A106.9 106.9 0 0 1 145.2 70.96L145.29 77.01A100.85 100.85 0 0 0 144.06 77.03ZM222.6 102.57A106.9 106.9 0 0 1 224.06 104.07L219.68 108.24A100.85 100.85 0 0 0 218.3 106.83ZM240 125.67A106.9 106.9 0 0 1 240.55 126.67L235.24 129.57A100.85 100.85 0 0 0 234.72 128.62ZM252.87 165.4A106.9 106.9 0 0 1 253.13 167.82L247.11 168.39A100.85 100.85 0 0 0 246.86 166.11Z"/>
<path fill="#f0920f" fill-opacity="0.9" d="M146.67 293.85A116 116 0 0 1 144.57 293.83L144.68 287.93A110.1 110.1 0 0 0 146.67 287.95ZM137.7 293.5A116 116 0 0 1 135.52 293.31L136.09 287.44A110.1 110.1 0 0 0 138.16 287.62ZM109.3 287.66A116 116 0 0 1 107.78 287.12L109.76 281.57A110.1 110.1 0 0 0 111.21 282.07ZM87.74 277.75A116 116 0 0 1 86.6 277.06L89.65 272.02A110.1 110.1 0 0 0 90.74 272.67ZM77.06 270.62A116 116 0 0 1 76.21 269.97L79.79 265.29A110.1 110.1 0 0 0 80.6 265.9ZM70 264.87A116 116 0 0 1 68.77 263.77L72.73 259.4A110.1 110.1 0 0 0 73.9 260.45ZM61.1 256.14A116 116 0 0 1 59.67 254.55L64.1 250.65A110.1 110.1 0 0 0 65.46 252.16ZM57.73 252.28A116 116 0 0 1 56.72 251.06L61.3 247.33A110.1 110.1 0 0 0 62.25 248.5ZM46.65 236.55A116 116 0 0 1 46.09 235.59L51.21 232.65A110.1 110.1 0 0 0 51.74 233.56ZM44.63 232.97A116 116 0 0 1 44.14 232.04L49.35 229.29A110.1 110.1 0 0 0 49.82 230.17ZM40.07 223.52A116 116 0 0 1 39.45 222.04L44.9 219.79A110.1 110.1 0 0 0 45.49 221.2ZM38.33 219.21A116 116 0 0 1 37.83 217.9L43.37 215.87A110.1 110.1 0 0 0 43.84 217.11ZM35.67 211.45A116 116 0 0 1 35.3 210.2L40.97 208.56A110.1 110.1 0 0 0 41.32 209.74ZM31.95 194.82A116 116 0 0 1 31.8 193.79L37.64 192.98A110.1 110.1 0 0 0 37.78 193.96ZM31.41 190.63A116 116 0 0 1 31.23 188.88L37.1 188.32A110.1 110.1 0 0 0 37.27 189.98ZM30.77 181.83A116 116 0 0 1 30.72 180.2L36.62 180.08A110.1 110.1 0 0 0 36.66 181.63ZM31.94 160.96A116 116 0 0 1 32.19 159.3L38.02 160.24A110.1 110.1 0 0 0 37.77 161.82ZM32.55 157.22A116 116 0 0 1 32.84 155.68L38.63 156.81A110.1 110.1 0 0 0 38.35 158.27ZM33.29 153.46A116 116 0 0 1 33.55 152.29L39.31 153.59A110.1 110.1 0 0 0 39.06 154.7ZM40.39 131.43A116 116 0 0 1 40.97 130.14L46.34 132.57A110.1 110.1 0 0 0 45.8 133.79ZM50 113.77A116 116 0 0 1 51.22 111.97L56.08 115.32A110.1 110.1 0 0 0 54.92 117.03ZM58.19 102.87A116 116 0 0 1 59.78 101.04L64.2 104.94A110.1 110.1 0 0 0 62.69 106.68ZM69.05 91.68A116 116 0 0 1 70.64 90.26L74.51 94.72A110.1 110.1 0 0 0 73 96.06ZM85.05 79.59A116 116 0 0 1 86.94 78.43L89.98 83.49A110.1 110.1 0 0 0 88.18 84.59ZM89.25 77.07A116 116 0 0 1 90.61 76.31L93.46 81.48A110.1 110.1 0 0 0 92.18 82.2ZM107.13 68.81A116 116 0 0 1 108.98 68.15L110.9 73.73A110.1 110.1 0 0 0 109.14 74.35ZM153.51 71.17A106.9 106.9 0 0 1 154.69 71.25L154.24 77.28A100.85 100.85 0 0 0 153.13 77.21ZM180.32 76.37A106.9 106.9 0 0 1 181.34 76.72L179.38 82.44A100.85 100.85 0 0 0 178.42 82.12ZM184.5 77.86A106.9 106.9 0 0 1 186.19 78.51L183.95 84.13A100.85 100.85 0 0 0 182.36 83.52ZM217.66 97.89A106.9 106.9 0 0 1 218.69 98.82L214.61 103.3A100.85 100.85 0 0 0 213.64 102.42ZM220.02 100.05A106.9 106.9 0 0 1 221.14 101.13L216.93 105.47A100.85 100.85 0 0 0 215.87 104.46ZM232.33 113.86A106.9 106.9 0 0 1 233.14 114.96L228.25 118.52A100.85 100.85 0 0 0 227.48 117.48ZM247.27 141.6A106.9 106.9 0 0 1 247.6 142.55L241.89 144.55A100.85 100.85 0 0 0 241.57 143.65ZM249.12 147.24A106.9 106.9 0 0 1 249.56 148.72L243.73 150.37A100.85 100.85 0 0 0 243.33 148.97ZM249.75 149.42A106.9 106.9 0 0 1 250.22 151.19L244.36 152.7A100.85 100.85 0 0 0 243.92 151.03ZM253.21 168.68A106.9 106.9 0 0 1 253.34 170.41L247.31 170.83A100.85 100.85 0 0 0 247.18 169.2ZM253.41 171.51A106.9 106.9 0 0 1 253.49 172.93L247.44 173.21A100.85 100.85 0 0 0 247.37 171.87ZM253.56 180.82A106.9 106.9 0 0 1 253.47 183.12L247.43 182.82A100.85 100.85 0 0 0 247.51 180.65ZM250.92 201.65A106.9 106.9 0 0 1 250.7 202.6L244.81 201.2A100.85 100.85 0 0 0 245.02 200.3ZM246.66 215.73A106.9 106.9 0 0 1 245.97 217.51L240.35 215.27A100.85 100.85 0 0 0 241.01 213.58ZM231.08 243.49A106.9 106.9 0 0 1 229.87 245.01L225.16 241.21A100.85 100.85 0 0 0 226.3 239.77ZM224.83 250.81A106.9 106.9 0 0 1 223.91 251.78L219.54 247.59A100.85 100.85 0 0 0 220.41 246.68ZM207.74 265.61A106.9 106.9 0 0 1 206.17 266.68L202.81 261.65A100.85 100.85 0 0 0 204.28 260.64ZM190.36 275.43A106.9 106.9 0 0 1 188.35 276.3L186 270.73A100.85 100.85 0 0 0 187.89 269.91Z"/>
<path fill="#f0920f" d="M106.72 286.74A116 116 0 0 1 104.85 286.04L106.98 280.54A110.1 110.1 0 0 0 108.76 281.21ZM94.63 281.51A116 116 0 0 1 93.16 280.76L95.89 275.52A110.1 110.1 0 0 0 97.28 276.24ZM59.13 253.92A116 116 0 0 1 58.33 252.99L62.82 249.17A110.1 110.1 0 0 0 63.58 250.05ZM55.16 249.11A116 116 0 0 1 53.77 247.27L58.49 243.74A110.1 110.1 0 0 0 59.82 245.48ZM48.93 240.27A116 116 0 0 1 47.57 238.1L52.61 235.03A110.1 110.1 0 0 0 53.9 237.1ZM45.69 234.89A116 116 0 0 1 45.1 233.82L50.26 230.97A110.1 110.1 0 0 0 50.83 231.99ZM30.71 179.67A116 116 0 0 1 30.7 177.8L36.6 177.8A110.1 110.1 0 0 0 36.61 179.58ZM151.69 71.07A106.9 106.9 0 0 1 152.81 71.12L152.46 77.16A100.85 100.85 0 0 0 151.41 77.11ZM171.84 73.95A106.9 106.9 0 0 1 173.05 74.25L171.56 80.11A100.85 100.85 0 0 0 170.41 79.83ZM193.14 81.56A106.9 106.9 0 0 1 195.06 82.51L192.32 87.91A100.85 100.85 0 0 0 190.51 87.01ZM195.62 82.8A106.9 106.9 0 0 1 196.68 83.35L193.85 88.7A100.85 100.85 0 0 0 192.85 88.18ZM201.07 85.81A106.9 106.9 0 0 1 202.2 86.48L199.06 91.66A100.85 100.85 0 0 0 197.99 91.02ZM227.78 108.18A106.9 106.9 0 0 1 229.19 109.86L224.52 113.71A100.85 100.85 0 0 0 223.19 112.12ZM253.59 176.27A106.9 106.9 0 0 1 253.6 178.49L247.55 178.46A100.85 100.85 0 0 0 247.54 176.36ZM253.42 184A106.9 106.9 0 0 1 253.27 186.21L247.24 185.73A100.85 100.85 0 0 0 247.38 183.65ZM249.02 208.82A106.9 106.9 0 0 1 248.63 210.05L242.87 208.23A100.85 100.85 0 0 0 243.23 207.06ZM242.1 226.09A106.9 106.9 0 0 1 241.15 227.92L235.8 225.09A100.85 100.85 0 0 0 236.7 223.36Z"/>
<path fill="#6a30f8" d="M179.99 108.2A77.2 77.2 0 0 1 181.86 109.12L179.31 114.11A71.6 71.6 0 0 0 177.58 113.25ZM222.02 194.78A77.2 77.2 0 0 1 221.74 195.98L216.3 194.67A71.6 71.6 0 0 0 216.56 193.55Z"/>
<path fill="#e810c8" d="M181.79 109.08A77.2 77.2 0 0 1 183.03 109.73L180.4 114.68A71.6 71.6 0 0 0 179.24 114.07ZM221.52 196.86A77.2 77.2 0 0 1 221.09 198.48L215.7 196.98A71.6 71.6 0 0 0 216.1 195.48Z"/>
<path fill="#ff5522" d="M189.11 113.34A77.2 77.2 0 0 1 190.45 114.24L187.27 118.85A71.6 71.6 0 0 0 186.03 118.02Z"/>
<path fill="#a8b800" d="M199.45 121.48A77.2 77.2 0 0 1 200.65 122.63L196.74 126.64A71.6 71.6 0 0 0 195.62 125.57Z"/>
<path fill="#30e010" fill-opacity="0.9" d="M217.84 147.86A77.2 77.2 0 0 1 218.37 149.16L213.17 151.24A71.6 71.6 0 0 0 212.68 150.04ZM214.39 214.96A77.2 77.2 0 0 1 213.75 216.11L208.89 213.34A71.6 71.6 0 0 0 209.48 212.27Z"/>
<path fill="#10a0e8" fill-opacity="0.8" d="M223.34 168.59A77.2 77.2 0 0 1 223.58 170.88L218.01 171.38A71.6 71.6 0 0 0 217.78 169.26Z"/>
<path fill="#4848f8" d="M223.88 179.72A77.2 77.2 0 0 1 223.79 181.93L218.2 181.63A71.6 71.6 0 0 0 218.28 179.59Z"/>
<path fill="#1cb8d6" d="M217.02 209.72A77.2 77.2 0 0 1 216.27 211.31L211.22 208.89A71.6 71.6 0 0 0 211.92 207.4Z"/>
<path fill="#20d8a8" fill-opacity="0.9" d="M200.75 232.97A77.2 77.2 0 0 1 199.38 234.29L195.55 230.19A71.6 71.6 0 0 0 196.83 228.98Z"/>
<path fill="#fa108c" d="M195.79 237.43A77.2 77.2 0 0 1 194.46 238.51L190.99 234.11A71.6 71.6 0 0 0 192.23 233.11Z"/>
<path fill="#f5105a" fill-opacity="0.9" d="M193.81 239.01A77.2 77.2 0 0 1 192.59 239.93L189.26 235.43A71.6 71.6 0 0 0 190.39 234.57Z"/>
<path fill="#ff6a10" fill-opacity="0.9" d="M187.63 243.3A77.2 77.2 0 0 1 185.72 244.46L182.89 239.63A71.6 71.6 0 0 0 184.67 238.56Z"/>
<path fill="#1ec8c8" d="M142.96 61.91A116 116 0 0 1 145.99 61.85L146.03 67.75A110.1 110.1 0 0 0 143.15 67.81ZM127.77 72.64A106.9 106.9 0 0 1 129.61 72.33L130.58 78.3A100.85 100.85 0 0 0 128.84 78.59ZM101.18 81.12A106.9 106.9 0 0 1 103.22 80.19L105.68 85.72A100.85 100.85 0 0 0 103.76 86.6ZM61.66 113.07A106.9 106.9 0 0 1 62.92 111.45L67.66 115.21A100.85 100.85 0 0 0 66.48 116.74ZM40.01 171.14A106.9 106.9 0 0 1 40.24 168.16L46.27 168.71A100.85 100.85 0 0 0 46.05 171.52Z"/>
<path fill="#9a30f0" d="M74.62 98.91A106.9 106.9 0 0 1 75.73 97.91L79.74 102.43A100.85 100.85 0 0 0 78.7 103.38Z"/>
<path fill="#10a010" d="M133.32 95.23L132.95 92.93 134.5 92.69 134.37 91.74 135.95 91.53 135.89 91.02 137.48 90.84 137.53 91.3 139.11 91.15 139.03 90.24 140.64 90.11 140.64 90.15 142.25 90.06 142.27 90.38 143.87 90.31 143.88 90.46 145.48 90.43 145.49 91.19 147.08 91.19 147.08 90.56 148.68 90.58 148.69 90.2 150.29 90.25 150.27 90.95 151.86 91.03 151.88 90.74 153.47 90.85 153.52 90.26 155.12 90.4 155.12 90.39 156.72 90.56 156.65 91.2 158.23 91.4 158.36 90.45 159.96 90.68 159.89 91.17 161.47 91.42 161.48 91.38 163.06 91.66 163 91.97 164.58 92.28 164.63 92.02 166.2 92.36 166.25 92.15 167.82 92.52 167.81 92.55 169.37 92.95 169.43 92.73 170.98 93.16 170.85 93.62 172.39 94.08 172.46 93.86 173.99 94.34 174.11 94 175.64 94.52 175.77 94.15 177.3 94.69 177 95.5 178.5 96.07 178.71 95.54 180.21 96.14 180.19 96.19 181.68 96.82 181.38 97.52 182.85 98.17 183.05 97.73 184.51 98.4 184.22 99 185.66 99.7 185.41 100.2 186.83 100.93 186.97 100.66 188.38 101.41 188.51 101.17 189.9 101.95 189.8 102.13 191.18 102.94 191 103.24 192.36 104.06 192.38 104.04 193.72 104.89 194.26 104.05 195.6 104.94 195.61 104.93 196.94 105.83 197.35 105.24 198.67 106.19 198.71 106.13 200.02 107.1 199.63 107.61 200.91 108.59 201.55 107.77 202.82 108.79 202.06 109.73 203.3 110.76 203.6 110.4 204.82 111.46 204.49 111.83 205.69 112.9 205.76 112.83 206.94 113.92 206.65 114.24 207.8 115.35 208.52 114.61 209.67 115.75 209.14 116.27 210.26 117.43 209.85 117.82 210.94 118.98 211.68 118.3 212.76 119.51 212.01 120.17 213.06 121.37 213.64 120.88 214.67 122.11 214.5 122.26 215.5 123.51 215.69 123.36 216.68 124.64 217.21 124.23 218.18 125.53 218.08 125.61 219.02 126.93 218.57 127.24 219.49 128.57 220.4 127.95 221.31 129.31 221.19 129.39 222.06 130.76 221.8 130.93 222.64 132.31 222.76 132.24 223.59 133.64 224.33 133.21 225.13 134.64 224.88 134.78 225.66 136.22 226.06 136.01 226.81 137.47 226.78 137.49 227.51 138.96 226.39 139.5 227.08 140.96 226.62 141.18 227.27 142.65 227.92 142.36 228.56 143.86 227.22 144.42 227.82 145.9 228.23 145.73 228.81 147.23 229.17 147.1 229.72 148.61 230.06 148.49 230.59 150.03 230.36 150.1 230.85 151.64 231.69 151.38 232.16 152.94 232.37 152.88 232.82 154.45 231.63 154.78 232.04 156.34 231.75 156.41 232.13 157.97 231.98 158.01 232.32 159.57 232.34 159.57 232.66 161.14 233.34 161.01 233.64 162.6 232.64 162.77 232.9 164.35 233.57 164.25 233.8 165.84 234.16 165.79 234.37 167.4 234.28 167.41 234.46 169.01 234.27 169.03 234.42 170.64 234.84 170.6 234.95 172.22 233.85 172.29 233.94 173.89 233.9 173.89 233.96 175.49 233.92 175.49 233.95 177.09 235.01 177.08 235.01 178.7 234.2 178.69 234.17 180.29 233.71 180.28 233.65 181.87 234.22 181.9 234.13 183.5 233.92 183.49 233.8 185.09 234.27 185.13 234.12 186.73 233.63 186.68 233.45 188.27 233.06 188.22 232.86 189.81 233.93 189.95 233.7 191.55 234 191.6 233.74 193.2 232.74 193.02 232.45 194.6 233.48 194.8 233.15 196.38 233.03 196.36 232.68 197.94 233.67 198.17 233.29 199.76 232.97 199.68 232.55 201.26 231.01 200.84 230.58 202.38 230.25 202.28 229.79 203.81 229.2 203.62 228.71 205.13 229.92 205.53 229.4 207.05 228.54 206.75 227.99 208.24 228.68 208.5 228.1 210 228.24 210.05 227.63 211.54 228.21 211.78 227.58 213.27 227.9 213.41 227.23 214.89 227.95 215.22 227.25 216.7 226.32 216.25 225.6 217.71 226.47 218.14 225.71 219.6 224.92 219.18 224.15 220.61 223.92 220.48 223.12 221.88 222.94 221.78 222.13 223.17 221.77 222.96 220.93 224.33 220.91 224.31 220.05 225.67 219.9 225.57 219.01 226.9 218.76 226.73 217.86 228.05 217.99 228.14 217.06 229.44 217.43 229.71 216.47 231 216.03 230.66 215.05 231.92 215.35 232.16 214.34 233.41 214.41 233.47 213.38 234.7 213.94 235.17 212.88 236.4 212.9 236.42 211.82 237.62 211.82 237.62 210.71 238.81 209.95 238.08 208.84 239.23 209.16 239.55 208.02 240.69 207.58 240.24 206.43 241.34 206.86 241.8 205.68 242.9 205.84 243.07 204.63 244.14 204.3 243.76 203.08 244.81 202.8 244.47 201.57 245.48 201.73 245.69 200.48 246.69 200.14 246.25 198.88 247.22 199.15 247.57 197.86 248.52 198.07 248.81 196.76 249.74 196.34 249.13 195.02 250.03 195.28 250.42 193.94 251.29 194.28 251.83 192.92 252.69 192.44 251.91 191.07 252.73 191.94 254.2 190.54 255.02 190.26 254.53 188.85 255.32 188.6 254.87 187.18 255.62 187.1 255.46 185.67 256.19 185.98 256.8 184.52 257.51 184.73 257.93 183.25 258.62 182.98 258.01 181.5 258.66 181.39 258.39 179.91 259.02 180.03 259.32 178.53 259.92 178.51 259.86 177 260.42 176.75 259.74 176.68 259.77L175.46 256.45A83.7 83.7 0 0 0 133.32 95.23Z"/>
<path fill="#b000b0" d="M175.46 256.45L174.8 254.63 173.38 255.13 173.33 254.97 171.91 255.44 171.79 255.07 170.37 255.51 170.39 255.57 168.96 256 168.61 254.78 167.2 255.17 167.27 255.41 165.84 255.78 165.78 255.54 164.36 255.88 164.4 256.09 162.97 256.4 163.13 257.21 161.68 257.5 161.72 257.7 160.25 257.96 160.12 257.2 158.66 257.43 158.75 258.01 157.28 258.22 157.24 257.88 155.77 258.06 155.79 258.28 154.32 258.44 154.29 258.1 152.81 258.23 152.86 258.8 151.37 258.9 151.36 258.73 149.88 258.8 149.86 258.39 148.39 258.43 148.4 259.05 146.91 259.07 146.91 258.24 145.44 258.23 145.43 258.54 143.95 258.5 143.95 258.59 142.47 258.53 142.48 258.33 141.01 258.24 141.05 257.67 139.59 257.56 139.57 257.76 138.1 257.62 138.04 258.23 136.57 258.06 136.57 258 135.11 257.8 135.16 257.46 133.7 257.23 133.82 256.48 132.39 256.23 132.29 256.74 130.85 256.46 130.71 257.14 129.26 256.84 129.4 256.2 127.97 255.87 128.02 255.67 126.6 255.31 126.62 255.2 125.21 254.82 125.27 254.61 123.87 254.2 123.7 254.77 122.29 254.33 122.11 254.9 120.7 254.44 120.71 254.43 119.31 253.94 119.29 253.99 117.9 253.48 117.88 253.53 116.5 252.99 116.48 253.03 115.11 252.46 115.47 251.6 114.13 251.01 113.95 251.42 112.6 250.81 112.59 250.84 111.25 250.2 111.58 249.54 110.27 248.88 110.09 249.25 108.78 248.56 108.98 248.2 107.7 247.49 107.56 247.73 106.29 247 106.53 246.59 105.28 245.84 105.61 245.3 104.38 244.54 103.75 245.52 102.52 244.73 102.8 244.3 101.59 243.48 101.55 243.54 100.36 242.7 100.2 242.92 99.01 242.06 98.89 242.22 97.72 241.34 98.36 240.51 97.22 239.61 96.6 240.38 95.46 239.45 96.05 238.74 94.95 237.81 94.26 238.6 93.16 237.63 93.59 237.14 92.52 236.16 91.89 236.84 90.82 235.82 91.26 235.36 90.21 234.34 90.4 234.15 89.37 233.11 88.91 233.56 87.9 232.49 88.69 231.75 87.71 230.68 88.67 229.82 87.73 228.75 86.95 229.42 86.02 228.32 86.36 228.03 85.45 226.92 85.82 226.62 84.94 225.5 85.07 225.4 84.21 224.26 83.45 224.83 82.6 223.66 82.71 223.58 81.88 222.4 81.13 222.92 80.31 221.71 80.12 221.83 79.33 220.61 80.16 220.08 79.4 218.85 78.01 219.7 77.25 218.43 78.19 217.88 77.47 216.62 77.26 216.74 76.56 215.46 76.55 215.46 75.88 214.17 75.42 214.4 74.76 213.09 74.47 213.24 73.83 211.91 73.6 212.01 72.99 210.67 73.46 210.46 72.87 209.11 72.92 209.09 72.36 207.73 73.12 207.43 72.59 206.07 72.31 206.18 71.8 204.81 71.73 204.84 71.24 203.46 70.8 203.62 70.34 202.22 70.82 202.07 70.39 200.67 70.05 200.77 69.65 199.36 70.52 199.12 70.14 197.72 70.26 197.69 69.91 196.28 70.32 196.19 70 194.78 70.05 194.77 69.75 193.37 69.31 193.45 69.04 192.03 69.29 191.99 69.05 190.57 68.06 190.73 67.84 189.28 68.55 189.18 68.35 187.75 67.58 187.84 67.41 186.39 67.8 186.35 67.65 184.9 67.17 184.95 67.06 183.49 68.83 183.36 68.74 181.94 67.23 182.02 67.16 180.56 68.43 180.51 68.4 179.08 68.13 179.08 68.12 177.64 67.33 177.64 67.35 176.19 68.13 176.2 68.18 174.76 66.95 174.72 67.02 173.26 66.67 173.24 66.77 171.77 66.28 171.73 66.4 170.26 66.63 170.28 66.78 168.81 66.72 168.81 66.9 167.34 67.81 167.46 68.01 166.02 66.83 165.84 67.06 164.38 67.74 164.5 68 163.05 67.95 163.04 68.23 161.6 68.56 161.67 68.87 160.24 68.7 160.2 69.04 158.77 68.79 158.71 69.15 157.29 70.38 157.61 70.76 156.22 70 156 70.41 154.6 70.87 154.74 71.31 153.35 71.45 153.4 71.91 152.02 71.94 152.03 72.42 150.67 72.84 150.82 73.34 149.47 73.25 149.44 73.79 148.09 73.33 147.91 73.89 146.57 75.22 147.14 75.8 145.84 74.93 145.44 75.53 144.13 75.53 144.13 76.16 142.83 76.7 143.1 77.34 141.82 77.23 141.76 77.9 140.5 78.06 140.58 78.76 139.33 78.73 139.31 79.44 138.07 78.85 137.72 79.6 136.49 78.8 136 79.58 134.76 79.99 135.03 80.79 133.81 80.52 133.63 81.34 132.42 81.55 132.57 82.39 131.38 82.21 131.25 83.07 130.08 83.48 130.38 84.36 129.23 84.59 129.41 85.49 128.28 85.3 128.13 86.22 127.01 86.72 127.44 87.66 126.35 87.66 126.35 88.61 125.27 87.68 124.43 88.67 123.36 89.52 124.16 90.52 123.12 90.46 123.06 91.47 122.04 91.04 121.6 92.08 120.59 91.69 120.18 92.75 119.19 92.58 118.99 93.66 118.01 93.45 117.76 94.56 116.8 94.96 117.27 96.08 116.34 96.53 116.88 97.66 115.97 97.26 115.47 98.41 114.58 98.41 114.58 99.58 113.71 99.97 114.24 101.15 113.39 100.95 113.12 102.15 112.29 102.77 113.21 103.96 112.42 103.87 112.27 105.08 111.49 104.99 111.36 106.22 110.61 105.33 109.14 106.6 108.4 106.88 108.87 108.15 108.15 107.95 107.81 109.24 107.11 109.92 108.39 111.2 107.73 111.02 107.36 112.32 106.72 112.18 106.44 113.49 105.82 113.7 106.26 115.02 105.67 114.86 105.32 116.2 104.75 116.32 105.05 117.66 104.51 117.49 104.07 118.85 103.55 118.76 103.32 120.13 102.82 120.5 103.86 121.86 103.4 121.76 103.11 123.14 102.66 123.1 102.56 124.49 102.14 124.59 102.49 125.98 102.1 125.84 101.59 127.24 101.22 127.18 100.97 128.59 100.63 128.36 99.66 129.8 99.34 129.77 99.21 131.21 98.91 131.21 98.91 132.66 98.64 132.76 99.19 133.93 98.99L133.32 95.23A83.7 83.7 0 1 0 175.46 256.45Z"/>
<path fill="#000" d="M146.05 84.94 146.62 84.94 146.62 85.32 147.18 85.32 147.18 85.74 147.74 85.75 147.75 85.58 148.31 85.59 148.31 85.65 148.87 85.66 148.88 85.29 149.45 85.3 149.43 86.01 149.99 86.03 150.02 85.22 150.58 85.24 150.57 85.42 151.14 85.45 151.14 85.44 151.7 85.47 151.67 86.06 152.23 86.1 152.23 86.14 152.79 86.18 152.83 85.57 153.39 85.61 153.35 86.24 153.91 86.29 153.99 85.22 154.56 85.26 154.54 85.47 155.1 85.52 155.05 86.14 155.61 86.19 155.74 84.85 156.31 84.9 156.22 85.75 156.78 85.81 156.86 85.11 157.42 85.18 157.29 86.32 157.85 86.39 157.84 86.46 158.4 86.53 158.42 86.35 158.98 86.42 158.99 86.38 159.54 86.45 159.54 86.45 160.1 86.54 160.23 85.66 160.79 85.75 160.77 85.9 161.33 85.99 161.26 86.44 161.82 86.53 161.96 85.65 162.53 85.74 162.23 87.5 162.78 87.6 162.92 86.77 163.48 86.87 163.29 87.9 163.84 88 163.98 87.27 164.53 87.38 164.65 86.77 165.21 86.88 165.12 87.32 165.67 87.43 165.71 87.24 166.26 87.36 166.26 87.39 166.81 87.51 166.8 87.57 167.35 87.7 167.35 87.7 167.9 87.82 167.98 87.48 168.53 87.61 168.33 88.44 168.88 88.58 169.07 87.79 169.62 87.93 169.58 88.08 170.13 88.22 169.97 88.85 170.51 88.99 170.39 89.45 170.93 89.6 171.21 88.58 171.75 88.73 171.5 89.63 172.04 89.78 172.32 88.81 172.86 88.97 173.08 88.21 173.63 88.37 173.27 89.57 173.81 89.73 173.82 89.7 174.36 89.86 174.69 88.8 175.23 88.98 175.05 89.56 175.58 89.74 175.43 90.2 175.97 90.38 176.17 89.76 176.71 89.94 176.76 89.8 177.3 89.98 177.03 90.75 177.56 90.94 177.53 91.03 178.06 91.22 178.37 90.37 178.9 90.57 178.73 91.03 179.26 91.23 179.56 90.43 180.09 90.63 179.94 91.03 180.47 91.23 180.53 91.07 181.06 91.28 180.97 91.51 181.5 91.72 181.6 91.46 182.13 91.68 181.77 92.54 182.29 92.76 182.46 92.37 182.98 92.59 183.1 92.3 183.62 92.52 183.18 93.55 183.69 93.78 183.56 94.08 184.07 94.31 184.46 93.43 184.98 93.66 184.48 94.75 184.99 94.98 185.47 93.94 185.98 94.18 185.76 94.65 186.27 94.89 186.7 93.99 187.21 94.24 187.41 93.83 187.92 94.08 186.99 95.98 187.49 96.22 188.22 94.75 188.73 95.01 188.32 95.81 188.82 96.06 188.65 96.4 189.14 96.66 189.38 96.22 189.87 96.48 189.93 96.38 190.42 96.65 190.16 97.14 190.65 97.41 191.03 96.71 191.53 96.98 191.68 96.71 192.17 96.99 192.14 97.04 192.63 97.32 192.53 97.5 193.02 97.78 192.8 98.16 193.29 98.44 193.64 97.85 194.12 98.14 193.96 98.42 194.44 98.71 194.24 99.05 194.72 99.34 194.99 98.89 195.48 99.18 195.18 99.65 195.66 99.95 195.84 99.67 196.32 99.97 195.8 100.78 196.27 101.08 197.07 99.84 197.55 100.15 197.52 100.19 197.99 100.5 197.36 101.46 197.83 101.77 197.91 101.65 198.37 101.96 198.83 101.28 199.3 101.6 199.23 101.7 199.69 102.03 199.45 102.38 199.91 102.7 200 102.58 200.46 102.9 200.68 102.59 201.14 102.92 200.77 103.43 201.22 103.76 201.54 103.33 201.99 103.67 201.79 103.94 202.24 104.28 202.12 104.44 202.57 104.78 202.59 104.75 203.04 105.09 202.94 105.21 203.38 105.56 203.44 105.49 203.88 105.84 203.98 105.71 204.42 106.06 204.46 106.01 204.89 106.37 205.12 106.1 205.55 106.45 205.3 106.76 205.74 107.12 205.68 107.18 206.11 107.54 206.19 107.45 206.62 107.81 207.45 106.85 207.88 107.22 207.06 108.17 207.49 108.54 207.7 108.29 208.13 108.67 207.81 109.02 208.23 109.4 208.23 109.39 208.65 109.77 208.54 109.89 208.96 110.27 209.61 109.56 210.02 109.94 208.99 111.05 209.4 111.43 210.11 110.67 210.52 111.06 210.34 111.25 210.75 111.64 211.55 110.81 211.96 111.21 211.5 111.68 211.9 112.08 211.53 112.46 211.92 112.85 212.36 112.42 212.75 112.83 212.57 113.01 212.96 113.41 212.24 114.12 212.62 114.52 213.19 113.97 213.58 114.38 213.46 114.49 213.85 114.9 214.17 114.6 214.55 115.02 213.95 115.58 214.33 115.99 214.53 115.8 214.91 116.22 215.68 115.52 216.06 115.94 215.42 116.51 215.79 116.94 216.18 116.6 216.55 117.02 216.83 116.78 217.2 117.21 216.49 117.82 216.86 118.25 217.12 118.03 217.48 118.46 218.11 117.93 218.48 118.36 218.3 118.51 218.67 118.95 218.04 119.45 218.4 119.89 219.33 119.14 219.69 119.58 218.89 120.22 219.24 120.67 219.25 120.65 219.6 121.1 220.52 120.38 220.87 120.83 219.32 122.03 219.66 122.47 220.55 121.79 220.89 122.25 221.2 122.02 221.54 122.47 221.8 122.28 222.14 122.74 221.54 123.18 221.87 123.64 222 123.54 222.33 124 222.41 123.95 222.74 124.41 222.29 124.72 222.61 125.19 222.07 125.56 222.39 126.02 223.13 125.52 223.45 125.98 223.08 126.23 223.4 126.7 224.17 126.19 224.48 126.66 223.78 127.12 224.09 127.59 224.28 127.47 224.59 127.94 224.57 127.95 224.88 128.43 224.85 128.44 225.15 128.92 225.31 128.82 225.61 129.31 225.24 129.53 225.53 130.01 225.84 129.83 226.13 130.31 225.75 130.54 226.04 131.02 227.08 130.41 227.37 130.9 226.45 131.43 226.74 131.92 226.5 132.05 226.78 132.54 227.26 132.27 227.54 132.76 227.53 132.77 227.8 133.26 227.61 133.37 227.88 133.86 228.09 133.75 228.36 134.25 229.09 133.86 229.36 134.36 229.54 134.26 229.81 134.77 228.35 135.53 228.6 136.03 229.74 135.45 229.99 135.96 229.49 136.21 229.74 136.72 229.59 136.79 229.84 137.3 230.28 137.09 230.52 137.6 230.17 137.77 230.41 138.28 230.87 138.06 231.11 138.58 229.96 139.12 230.19 139.63 230.6 139.44 230.83 139.95 232.39 139.25 232.63 139.77 231.59 140.23 231.82 140.75 232.18 140.59 232.41 141.11 231.65 141.44 231.87 141.96 232.27 141.79 232.48 142.32 231.78 142.61 231.99 143.13 231.93 143.16 232.14 143.68 232.63 143.48 232.83 144.01 233.1 143.9 233.31 144.43 233.34 144.42 233.55 144.95 233.22 145.07 233.42 145.6 233.83 145.45 234.03 145.98 233.21 146.28 233.4 146.81 233.63 146.72 233.82 147.26 234.41 147.05 234.6 147.58 233.81 147.86 233.99 148.39 234.2 148.32 234.37 148.85 234.06 148.96 234.24 149.49 234.5 149.41 234.67 149.94 235.04 149.83 235.21 150.37 235.16 150.38 235.33 150.92 234.7 151.11 234.86 151.65 235.91 151.34 236.07 151.88 235.96 151.92 236.11 152.46 235.75 152.57 235.91 153.11 234.92 153.38 235.07 153.92 235.44 153.82 235.59 154.36 236.57 154.11 236.71 154.66 236.83 154.62 236.97 155.18 236.18 155.37 236.32 155.92 236.67 155.84 236.8 156.39 236.22 156.52 236.35 157.07 236.03 157.14 236.16 157.69 237.21 157.45 237.34 158 236.95 158.09 237.07 158.64 236.75 158.71 236.86 159.26 236.08 159.42 236.19 159.97 236.57 159.89 236.68 160.44 237.27 160.33 237.38 160.88 237.81 160.8 237.92 161.36 237.91 161.36 238.01 161.91 237.47 162.01 237.57 162.56 238.01 162.49 238.11 163.05 238.26 163.02 238.35 163.58 238.32 163.58 238.4 164.14 237.72 164.25 237.8 164.8 237.71 164.82 237.79 165.37 237.65 165.39 237.73 165.95 238.25 165.88 238.32 166.44 238.39 166.43 238.46 166.99 237.65 167.09 237.71 167.64 238.41 167.56 238.47 168.12 238.79 168.09 238.85 168.65 238.95 168.64 239 169.21 239.05 169.2 239.1 169.77 238.07 169.86 238.12 170.41 239.17 170.33 239.21 170.89 239.12 170.9 239.16 171.47 239.08 171.47 239.12 172.04 238.87 172.05 238.91 172.61 237.98 172.67 238.01 173.22 238.92 173.18 238.95 173.74 239.64 173.71 239.67 174.28 238.67 174.32 238.69 174.88 238.93 174.87 238.95 175.43 238.9 175.44 238.91 176 239.09 176 239.1 176.56 239.44 176.56 239.44 177.12 238.95 177.13 238.96 177.69 239.98 177.69 239.98 178.26 238.51 178.25 238.51 178.81 238.84 178.81 238.83 179.38 239.25 179.38 239.24 179.95 238.81 179.94 238.79 180.5 240.18 180.54 240.16 181.11 239.41 181.09 239.39 181.65 239.16 181.64 239.13 182.21 238.95 182.2 238.92 182.76 239.44 182.79 239.4 183.36 239.47 183.36 239.44 183.93 238.84 183.89 238.81 184.45 239.49 184.5 239.45 185.07 238.46 184.99 238.42 185.55 239.24 185.62 239.19 186.19 238.75 186.15 238.7 186.71 238.51 186.69 238.46 187.25 238.9 187.3 238.84 187.86 238.59 187.83 238.53 188.39 238.84 188.43 238.78 188.99 238.91 189.01 238.84 189.57 237.94 189.46 237.87 190.01 237.9 190.02 237.82 190.58 238.35 190.65 238.27 191.21 237.81 191.14 237.73 191.7 237.72 191.7 237.63 192.25 238.25 192.35 238.16 192.91 237.92 192.87 237.82 193.43 238.05 193.46 237.95 194.02 236.98 193.85 236.88 194.4 237.4 194.5 237.3 195.05 236.99 194.99 236.88 195.54 237.3 195.62 237.18 196.18 237.19 196.18 237.08 196.73 236.52 196.61 236.41 197.16 236.34 197.15 236.22 197.7 236.47 197.75 236.35 198.3 236.39 198.31 236.26 198.86 236.37 198.88 236.24 199.43 235.85 199.34 235.72 199.88 236.64 200.11 236.51 200.66 237.27 200.85 237.13 201.41 236.55 201.25 236.4 201.8 235.9 201.67 235.75 202.21 236.04 202.29 235.89 202.84 235.65 202.77 235.5 203.31 234.59 203.05 234.44 203.59 234.88 203.72 234.72 204.26 235.9 204.61 235.73 205.15 235.24 205 235.07 205.54 234.33 205.31 234.16 205.85 234 205.79 233.83 206.33 233.83 206.33 233.66 206.86 234.17 207.03 233.99 207.57 234.25 207.65 234.07 208.19 233.67 208.05 233.48 208.58 234.54 208.96 234.35 209.49 233.67 209.25 233.47 209.78 233.54 209.8 233.34 210.33 233.42 210.36 233.22 210.89 233.78 211.1 233.58 211.64 233.44 211.58 233.24 212.11 233 212.02 232.79 212.55 232.05 212.25 231.84 212.77 232.14 212.89 231.93 213.41 231.6 213.28 231.38 213.79 232.23 214.15 232 214.68 231.96 214.66 231.73 215.18 231.28 214.98 231.06 215.5 231.23 215.57 230.99 216.09 230.84 216.02 230.61 216.53 230.58 216.52 230.34 217.03 230.22 216.97 229.98 217.48 229.89 217.44 229.65 217.95 229.79 218.02 229.55 218.53 230.06 218.78 229.8 219.28 229.36 219.06 229.11 219.57 228.5 219.26 228.25 219.76 229.22 220.26 228.96 220.76 228.81 220.68 228.55 221.18 227.28 220.52 227.02 221.01 227.81 221.43 227.55 221.93 227.09 221.68 226.82 222.17 227.86 222.75 227.59 223.24 227.59 223.24 227.31 223.74 226.34 223.18 226.06 223.67 226.72 224.05 226.44 224.54 226.68 224.68 226.39 225.17 226.23 225.07 225.94 225.56 225.57 225.33 225.28 225.81 225.12 225.72 224.83 226.2 225.29 226.48 224.99 226.96 224.18 226.46 223.89 226.93 224.03 227.02 223.73 227.49 224.4 227.92 224.09 228.4 224.22 228.48 223.91 228.95 223.79 228.88 223.48 229.35 223.14 229.12 222.83 229.59 222.82 229.58 222.5 230.04 222.68 230.17 222.36 230.63 222.86 230.98 222.53 231.44 221.72 230.87 221.39 231.33 221.99 231.75 221.66 232.21 221.15 231.85 220.82 232.3 221.35 232.69 221.01 233.14 221.4 233.43 221.06 233.88 220.55 233.5 220.21 233.95 220.29 234.01 219.94 234.46 220.57 234.95 220.22 235.4 219.41 234.76 219.06 235.2 219.45 235.51 219.1 235.95 218.99 235.87 218.63 236.31 218.53 236.22 218.17 236.66 218.12 236.62 217.76 237.05 217.13 236.53 216.77 236.96 216.94 237.1 216.58 237.53 217.76 238.54 217.39 238.97 216.39 238.11 216.02 238.54 216.15 238.65 215.78 239.07 215.91 239.19 215.53 239.61 215.25 239.36 214.87 239.78 214.73 239.64 214.35 240.06 214.91 240.57 214.52 240.99 214.52 240.98 214.13 241.4 214.38 241.63 213.99 242.04 214.28 242.32 213.88 242.73 212.74 241.62 212.35 242.03 213.66 243.3 213.26 243.71 211.86 242.34 211.47 242.73 211.74 243 211.34 243.4 211.62 243.68 211.22 244.08 210.93 243.78 210.53 244.17 211.22 244.9 210.81 245.29 209.71 244.13 209.3 244.52 210.2 245.47 209.79 245.86 209.7 245.77 209.28 246.15 209.08 245.93 208.67 246.31 209.16 246.86 208.74 247.24 208.43 246.89 208.01 247.27 207.21 246.37 206.79 246.73 206.43 246.32 206.01 246.68 207.15 248 206.72 248.37 206.27 247.84 205.84 248.2 205.75 248.1 205.32 248.46 205.3 248.44 204.87 248.8 205.44 249.49 205 249.84 204.37 249.06 203.93 249.41 204.12 249.65 203.68 250 203.69 250.01 203.25 250.36 203.5 250.68 203.05 251.03 203.03 250.99 202.58 251.34 202.91 251.77 202.46 252.11 202.13 251.67 201.68 252.01 202.1 252.59 201.64 252.92 202.2 253.68 201.73 254.01 200.74 252.64 200.28 252.97 200.33 253.04 199.87 253.37 200.19 253.82 199.73 254.14 199.2 253.38 198.74 253.7 198.86 253.89 198.4 254.2 198.68 254.62 198.21 254.94 198.12 254.8 197.65 255.11 197.77 255.3 197.29 255.61 196.87 254.96 196.4 255.26 196.96 256.14 196.49 256.45 196.25 256.08 195.77 256.38 195.69 256.25 195.21 256.55 195.74 257.41 195.26 257.71 194.7 256.79 194.21 257.08 194.16 257 193.68 257.28 193.69 257.31 193.2 257.59 193.35 257.84 192.86 258.13 192.64 257.74 192.15 258.01 192.7 258.98 192.2 259.26 192.02 258.95 191.53 259.22 190.84 257.98 190.35 258.25 190.48 258.49 189.99 258.76 190.35 259.44 189.86 259.7 189.63 259.27 189.13 259.53 189.21 259.69 188.71 259.95 188.93 260.37 188.42 260.62 188.25 260.29 187.75 260.54 187.97 260.99 187.46 261.24 187.49 261.29 186.98 261.54 187.43 262.48 186.91 262.72 186.54 261.95 186.03 262.19 186.27 262.72 185.75 262.96 185.37 262.12 184.85 262.35 184.64 261.87 184.12 262.1 184.17 262.2 183.65 262.43 184.09 263.43 183.57 263.66 183.17 262.74 182.65 262.96 182.6 262.83 182.08 263.05 182.09 263.08 181.57 263.29 181.8 263.85 181.27 264.06 181.55 264.75 181.02 264.96 181.51 266.23 180.97 266.44 180.27 264.62 179.74 264.82 179.67 264.64 179.14 264.84 178.61 263.44 178.09 263.63 178.35 264.35 177.82 264.54 177.79 264.45 177.26 264.64 177.24 264.57 176.71 264.76 176.93 265.39 176.39 265.57 176.08 264.66 175.55 264.83 175.77 265.49 175.23 265.67 175.15 265.42 174.62 265.6 174.7 265.86 174.16 266.03 174.54 267.25 174 267.41 174.02 267.48 173.47 267.65 173.36 267.28 172.81 267.44 172.52 266.45 171.98 266.61 171.94 266.45 171.4 266.6 171.67 267.6 171.13 267.75 170.8 266.57 170.26 266.71 170.39 267.18 169.84 267.33 170 267.95 169.45 268.09 169.39 267.87 168.84 268 168.64 267.17 168.09 267.3 168.21 267.79 167.66 267.92 167.52 267.32 166.97 267.44 167.17 268.33 166.62 268.45 166.69 268.77 166.13 268.89 165.96 268.09 165.41 268.2 165.41 268.22 164.86 268.33 164.93 268.67 164.37 268.78 164.32 268.49 163.76 268.59 163.83 268.96 163.28 269.07 163.27 269.05 162.72 269.15 162.8 269.62 162.24 269.72 162.06 268.64 161.5 268.73 161.6 269.34 161.04 269.43 161.06 269.56 160.5 269.64 160.54 269.91 159.98 269.99 159.97 269.91 159.4 269.99 159.26 268.91 158.7 268.99 158.76 269.43 158.2 269.5 158.27 270.08 157.71 270.15 157.68 269.91 157.11 269.97 157.11 269.94 156.55 270 156.56 270.13 156 270.19 156 270.2 155.44 270.26 155.37 269.57 154.81 269.62 154.79 269.35 154.23 269.4 154.27 269.98 153.71 270.02 153.63 269 153.08 269.04 153.15 270.13 152.59 270.17 152.55 269.55 151.99 269.58 151.99 269.66 151.43 269.69 151.43 269.61 150.87 269.64 150.88 269.86 150.32 269.89 150.3 269.37 149.74 269.39 149.77 270.49 149.21 270.51 149.19 269.74 148.63 269.76 148.64 270.37 148.07 270.38 148.06 269.71 147.5 269.72 147.51 270.56 146.94 270.56 146.94 269.8 146.38 269.8 146.38 270.41 145.81 270.4 145.82 270.03 145.25 270.03 145.25 270.4 144.68 270.39 144.69 270.17 144.12 270.16 144.1 271.04 143.53 271.03 143.56 270.14 142.99 270.12 142.98 270.52 142.41 270.49 142.42 270.39 141.85 270.36 141.87 270.06 141.3 270.03 141.27 270.62 140.7 270.59 140.73 270.1 140.17 270.06 140.15 270.32 139.59 270.28 139.67 269.18 139.11 269.14 139.06 269.83 138.5 269.78 138.49 269.79 137.93 269.73 137.91 269.98 137.35 269.92 137.35 269.86 136.79 269.8 136.8 269.74 136.24 269.68 136.15 270.42 135.59 270.35 135.69 269.48 135.13 269.41 135.11 269.62 134.55 269.55 134.42 270.5 133.85 270.42 133.83 270.58 133.27 270.5 133.43 269.4 132.87 269.31 132.83 269.54 132.27 269.45 132.32 269.18 131.76 269.09 131.64 269.8 131.08 269.71 131.15 269.3 130.59 269.21 130.64 268.94 130.08 268.84 130.01 269.23 129.45 269.13 129.63 268.18 129.08 268.08 128.9 268.99 128.34 268.88 128.38 268.69 127.83 268.58 128.01 267.72 127.46 267.6 127.31 268.31 126.75 268.19 126.75 268.21 126.2 268.08 126.28 267.73 125.73 267.6 125.79 267.35 125.24 267.22 125.19 267.46 124.64 267.32 124.58 267.56 124.03 267.43 124.03 267.44 123.48 267.3 123.21 268.36 122.66 268.21 122.83 267.57 122.28 267.42 122.42 266.9 121.88 266.75 122.1 265.95 121.57 265.8 121.17 267.17 120.63 267.01 120.73 266.65 120.19 266.49 120.35 265.97 119.81 265.8 119.72 266.11 119.18 265.94 119.26 265.66 118.73 265.49 118.38 266.59 117.84 266.41 117.82 266.48 117.28 266.3 117.8 264.72 117.27 264.54 116.62 266.47 116.08 266.29 116.08 266.28 115.54 266.09 115.75 265.5 115.21 265.31 115.02 265.85 114.48 265.65 114.88 264.57 114.35 264.37 114.43 264.16 113.9 263.96 113.81 264.2 113.29 264 113.1 264.49 112.57 264.28 112.75 263.82 112.23 263.61 112.12 263.87 111.59 263.66 111.57 263.71 111.05 263.49 111.37 262.73 110.85 262.51 110.66 262.97 110.14 262.75 110.14 262.75 109.62 262.52 109.99 261.68 109.48 261.46 109.37 261.7 108.86 261.47 108.57 262.1 108.06 261.87 107.84 262.33 107.33 262.09 107.6 261.51 107.09 261.27 107.39 260.63 106.89 260.38 106.46 261.27 105.95 261.03 105.88 261.17 105.37 260.92 105.5 260.66 105 260.4 104.95 260.49 104.45 260.23 104.28 260.57 103.77 260.31 103.64 260.56 103.14 260.3 103.48 259.65 102.98 259.38 103.01 259.33 102.51 259.06 102.8 258.53 102.31 258.26 101.81 259.18 101.31 258.9 101.69 258.21 101.2 257.94 101.14 258.05 100.65 257.77 100.49 258.05 100 257.76 100.28 257.29 99.79 257.01 99.46 257.56 98.98 257.27 99.21 256.88 98.73 256.59 99.11 255.98 98.63 255.68 97.9 256.87 97.42 256.57 97.47 256.49 96.99 256.19 97.45 255.45 96.98 255.15 96.77 255.48 96.29 255.18 96.92 254.22 96.45 253.91 95.55 255.28 95.07 254.97 95.52 254.3 95.06 253.98 94.65 254.58 94.19 254.26 94.93 253.18 94.47 252.87 94.13 253.34 93.67 253.02 94.05 252.49 93.59 252.17 93.48 252.32 93.03 251.99 92.6 252.59 92.14 252.25 90.99 253.83 90.52 253.49 90.62 253.36 90.16 253.01 91.49 251.24 91.05 250.9 90.3 251.89 89.84 251.55 90.27 251 89.82 250.65 89.87 250.59 89.43 250.24 88.99 250.79 88.55 250.44 89.01 249.85 88.57 249.5 88.6 249.46 88.17 249.11 88.19 249.08 87.76 248.72 88.11 248.29 87.68 247.93 87.21 248.5 86.78 248.14 86.48 248.49 86.05 248.12 86.33 247.78 85.91 247.41 85.93 247.39 85.5 247.02 85.02 247.56 84.6 247.18 85.35 246.35 84.93 245.97 85.05 245.84 84.64 245.46 84.26 245.87 83.85 245.49 84.08 245.24 83.67 244.86 82.83 245.75 82.41 245.36 82.94 244.8 82.54 244.41 82.04 244.92 81.64 244.52 82.07 244.08 81.66 243.69 81.7 243.65 81.3 243.25 80.99 243.56 80.59 243.16 80.29 243.46 79.89 243.05 79.52 243.41 79.12 243 79.73 242.41 79.34 241.99 79.96 241.4 79.58 240.99 79.44 241.12 79.06 240.71 78.9 240.86 78.51 240.44 78.76 240.21 78.38 239.8 78.77 239.44 78.4 239.03 77.71 239.65 77.33 239.22 77.29 239.26 76.91 238.84 77.66 238.19 77.29 237.76 76.95 238.06 76.58 237.63 76.39 237.8 76.02 237.37 75.99 237.39 75.63 236.96 75.17 237.34 74.81 236.9 75.62 236.23 75.27 235.8 74.96 236.05 74.61 235.61 73.94 236.14 73.58 235.7 74.31 235.12 73.96 234.68 73.64 234.93 73.29 234.48 73.67 234.2 73.32 233.75 72.28 234.54 71.94 234.08 73.21 233.13 72.87 232.68 73.44 232.26 73.11 231.81 72.37 232.35 72.04 231.9 70.93 232.69 70.6 232.23 71.69 231.45 71.36 230.99 71.18 231.13 70.85 230.66 70.59 230.85 70.27 230.38 69.73 230.75 69.41 230.28 69.96 229.91 69.64 229.44 69.6 229.46 69.28 228.99 69.23 229.03 68.91 228.56 68.57 228.78 68.26 228.3 68.91 227.89 68.6 227.41 68.05 227.76 67.74 227.28 69.07 226.45 68.78 225.98 68.11 226.39 67.81 225.91 67.51 226.09 67.22 225.61 67.66 225.34 67.37 224.86 67.71 224.66 67.43 224.17 66.49 224.72 66.21 224.23 66.23 224.22 65.94 223.73 66.89 223.19 66.61 222.7 65.64 223.24 65.37 222.75 65.88 222.47 65.61 221.97 65.95 221.78 65.69 221.29 65.23 221.54 64.96 221.04 64.89 221.08 64.62 220.58 64.71 220.53 64.45 220.03 64.5 220.01 64.24 219.5 64.73 219.26 64.48 218.75 64.42 218.79 64.17 218.28 63.11 218.8 62.86 218.29 63.71 217.88 63.47 217.37 62.05 218.04 61.81 217.53 63.1 216.92 62.87 216.41 63.1 216.3 62.87 215.79 62.93 215.76 62.7 215.25 61.92 215.6 61.69 215.08 61.86 215 61.64 214.48 61.3 214.63 61.08 214.11 61.37 213.98 61.15 213.46 62.16 213.04 61.94 212.52 60.48 213.12 60.27 212.6 60.54 212.49 60.33 211.96 61.15 211.64 60.94 211.11 60.19 211.41 59.98 210.88 59.91 210.9 59.71 210.37 59.91 210.3 59.71 209.77 60.87 209.34 60.68 208.82 59.76 209.15 59.57 208.62 59.48 208.65 59.29 208.12 59.49 208.05 59.3 207.52 59.59 207.42 59.41 206.89 58.65 207.14 58.47 206.6 58.74 206.52 58.56 205.98 58.97 205.85 58.8 205.31 58.45 205.42 58.29 204.88 58.36 204.86 58.19 204.32 58.89 204.11 58.73 203.57 58.47 203.65 58.32 203.11 57.78 203.26 57.62 202.72 57.36 202.79 57.21 202.25 55.72 202.65 55.57 202.1 56.29 201.91 56.15 201.35 55.84 201.43 55.69 200.88 56.97 200.56 56.83 200.01 56.43 200.11 56.3 199.55 57.37 199.3 57.24 198.75 56.76 198.86 56.63 198.31 55.87 198.49 55.75 197.93 55.97 197.88 55.85 197.33 56.42 197.21 56.3 196.65 55.84 196.75 55.73 196.19 55.82 196.17 55.71 195.62 56.93 195.38 56.83 194.83 56.6 194.88 56.49 194.32 56.47 194.33 56.37 193.78 55.51 193.93 55.41 193.37 55.54 193.35 55.45 192.79 54.86 192.89 54.77 192.33 55.85 192.16 55.76 191.6 55.59 191.63 55.51 191.07 53.97 191.29 53.89 190.73 55.14 190.55 55.06 190 56.08 189.86 56 189.31 55.7 189.35 55.63 188.79 54.36 188.94 54.3 188.38 54.36 188.37 54.29 187.81 54.13 187.82 54.07 187.26 51.67 187.5 51.62 186.92 53.19 186.77 53.14 186.2 53.56 186.16 53.51 185.59 54.23 185.53 54.18 184.97 54.79 184.92 54.75 184.36 53.56 184.44 53.52 183.88 55.86 183.72 55.83 183.17 54.32 183.26 54.29 182.69 54.32 182.69 54.29 182.13 54.66 182.11 54.64 181.55 54.68 181.55 54.66 180.98 54.23 181 54.21 180.43 54.15 180.44 54.13 179.87 53.97 179.87 53.96 179.31 55.64 179.28 55.63 178.72 54.89 178.73 54.89 178.17 54.1 178.17 54.1 177.61 54.73 177.61 54.73 177.05 54.72 177.05 54.73 176.49 54 176.47 54.01 175.91 54.44 175.92 54.46 175.35 53.57 175.33 53.59 174.76 54.76 174.8 54.78 174.24 54.08 174.21 54.1 173.65 54.42 173.66 54.45 173.1 53.85 173.07 53.88 172.5 53.18 172.46 53.22 171.89 52.17 171.82 52.2 171.24 52 171.23 52.04 170.65 54.16 170.81 54.2 170.25 55.17 170.33 55.22 169.77 55.1 169.76 55.15 169.2 54.76 169.16 54.81 168.6 55.13 168.63 55.19 168.07 53.6 167.9 53.67 167.33 54.38 167.41 54.45 166.85 55.7 167 55.77 166.44 55.42 166.4 55.49 165.84 54.81 165.75 54.89 165.19 55.4 165.26 55.48 164.7 54.29 164.53 54.37 163.97 54.98 164.06 55.07 163.5 55.61 163.59 55.7 163.03 56.02 163.08 56.11 162.53 54.89 162.32 54.99 161.76 55.17 161.79 55.27 161.24 54.93 161.17 55.04 160.61 55.79 160.75 55.9 160.2 55.56 160.13 55.67 159.58 56.28 159.7 56.39 159.15 56.63 159.2 56.74 158.65 55.55 158.39 55.67 157.84 56.15 157.94 56.28 157.39 56.37 157.41 56.5 156.86 56.46 156.85 56.59 156.3 57.15 156.43 57.29 155.89 57.39 155.91 57.53 155.37 57.59 155.39 57.73 154.84 57.37 154.75 57.51 154.2 57.7 154.25 57.85 153.71 57.71 153.67 57.86 153.13 57.25 152.96 57.4 152.41 57.58 152.46 57.74 151.92 58.08 152.02 58.24 151.48 58.51 151.56 58.67 151.02 59.07 151.14 59.23 150.61 58.22 150.29 58.39 149.75 58.69 149.85 58.86 149.31 58.37 149.15 58.55 148.61 58.58 148.62 58.76 148.08 58.95 148.15 59.13 147.61 60 147.91 60.18 147.38 59.68 147.21 59.87 146.68 60.23 146.8 60.42 146.28 59.53 145.95 59.73 145.42 60.5 145.71 60.7 145.18 60.4 145.07 60.6 144.54 60.61 144.54 60.81 144.02 60.65 143.95 60.86 143.43 60.06 143.11 60.27 142.58 58.84 142 59.06 141.46 59.17 141.5 59.39 140.97 61.23 141.75 61.45 141.23 60.79 140.94 61.02 140.42 61.82 140.77 62.05 140.25 62.41 140.41 62.64 139.9 62.57 139.86 62.8 139.35 62.81 139.35 63.04 138.84 62.37 138.53 62.61 138.01 62.85 138.12 63.09 137.61 62.77 137.46 63.02 136.94 63.66 137.26 63.91 136.75 63.66 136.63 63.91 136.12 64.37 136.35 64.63 135.85 63.82 135.44 64.09 134.94 64.89 135.35 65.15 134.86 64.62 134.57 64.89 134.07 65.17 134.23 65.44 133.73 65.54 133.79 65.82 133.29 65.46 133.1 65.74 132.6 66.26 132.89 66.53 132.4 66.24 132.23 66.52 131.74 67.05 132.05 67.33 131.56 67.43 131.62 67.72 131.14 67.31 130.9 67.6 130.42 67.35 130.26 67.64 129.78 68.02 130.01 68.31 129.53 68.32 129.54 68.62 129.06 68.49 128.98 68.79 128.5 67.97 127.98 68.28 127.5 68.99 127.96 69.3 127.49 69.42 127.57 69.73 127.1 69.62 127.02 69.93 126.55 70.79 127.13 71.11 126.67 70.45 126.22 70.77 125.76 70.74 125.74 71.06 125.28 70.82 125.11 71.15 124.65 70.74 124.37 71.07 123.9 71.97 124.55 72.3 124.09 71.65 123.62 71.98 123.16 71.97 123.15 72.3 122.7 72.57 122.9 72.91 122.45 73.29 122.74 73.63 122.29 73.25 122 73.6 121.55 73.15 121.21 73.5 120.76 72.44 119.94 72.79 119.48 72.54 119.28 72.9 118.83 74.4 120.03 74.75 119.59 74.38 119.28 74.74 118.84 75.21 119.24 75.57 118.8 75.75 118.94 76.11 118.51 75.9 118.34 76.27 117.91 76.16 117.82 76.53 117.39 77.05 117.84 77.42 117.41 76.56 116.67 76.94 116.24 77.43 116.68 77.81 116.26 78.12 116.53 78.5 116.12 78.24 115.88 78.62 115.47 78.75 115.58 79.13 115.17 79.24 115.27 79.62 114.86 79.12 114.39 79.51 113.97 79.82 114.28 80.21 113.87 80.18 113.83 80.57 113.43 79.44 112.33 79.84 111.92 80.4 112.47 80.8 112.07 80.7 111.96 81.1 111.56 82.11 112.58 82.51 112.19 82.55 112.23 82.96 111.84 82.89 111.78 83.3 111.39 82.45 110.5 82.86 110.11 83.6 110.89 84.01 110.5 83.49 109.95 83.91 109.57 83.81 109.46 84.23 109.08 84.5 109.37 84.92 109 85.07 109.16 85.49 108.79 86.02 109.38 86.44 109.01 86.56 109.16 86.98 108.79 86.32 108.03 86.75 107.66 87 107.95 87.43 107.59 87.33 107.47 87.76 107.11 88.01 107.41 88.44 107.05 87.91 106.4 88.35 106.05 88.53 106.27 88.97 105.92 88.68 105.55 89.12 105.2 89.25 105.36 89.69 105.01 89.91 105.3 90.36 104.95 89.97 104.45 90.42 104.11 91.04 104.91 91.48 104.58 90.71 103.55 91.17 103.21 91.86 104.14 92.31 103.8 92.02 103.41 92.47 103.08 92.04 102.48 92.5 102.14 93.33 103.3 93.78 102.98 93.49 102.56 93.95 102.24 93.9 102.16 94.36 101.84 94.61 102.2 95.07 101.88 94.99 101.76 95.45 101.44 95.27 101.17 95.74 100.86 95.72 100.82 96.19 100.51 96.09 100.36 96.56 100.05 97.02 100.77 97.49 100.46 96.87 99.49 97.35 99.18 97.31 99.11 97.79 98.81 98.21 99.5 98.69 99.2 98.24 98.46 98.72 98.16 98.36 97.56 98.85 97.27 98.37 96.45 98.87 96.16 99.35 96.98 99.84 96.69 99.26 95.68 99.76 95.39 99.69 95.26 100.19 94.98 99.3 93.39 99.82 93.1 100.31 93.98 100.82 93.7 101.33 94.64 101.84 94.37 102.09 94.83 102.6 94.56 102.78 94.89 103.28 94.62 103.58 95.19 104.08 94.92 104.16 95.08 104.67 94.82 104.86 95.19 105.36 94.94 105.38 94.98 105.89 94.73 106.03 95.02 106.54 94.78 105.95 93.55 106.47 93.31 106.94 94.31 107.45 94.07 106.98 93.06 107.5 92.82 106.54 90.74 107.07 90.5 107.93 92.38 108.45 92.14 108.86 93.07 109.38 92.84 109.63 93.4 110.15 93.17 110.29 93.52 110.81 93.29 110.7 93.05 111.22 92.83 111.31 93.04 111.83 92.83 111.47 91.95 112 91.74 112.25 92.36 112.77 92.15 112.66 91.89 113.19 91.68 112.89 90.9 113.42 90.7 113.8 91.69 114.32 91.49 114.47 91.88 115 91.68 114.67 90.8 115.21 90.61 115.3 90.86 115.83 90.67 115.76 90.49 116.3 90.3 115.97 89.37 116.52 89.18 116.82 90.08 117.36 89.9 117.5 90.32 118.03 90.14 118.09 90.31 118.62 90.14 118.45 89.6 118.99 89.43 118.86 89.01 119.4 88.84 119.39 88.79 119.93 88.63 120.1 89.2 120.65 89.04 120.45 88.39 121 88.23 121.39 89.58 121.93 89.43 121.74 88.76 122.29 88.61 122.24 88.45 122.79 88.3 122.98 89 123.52 88.85 123.36 88.25 123.91 88.1 123.85 87.9 124.4 87.76 124.44 87.92 124.99 87.78 125.1 88.21 125.65 88.08 125.57 87.78 126.13 87.66 126.08 87.44 126.63 87.31 126.57 87.06 127.13 86.94 127.14 87.02 127.7 86.9 127.75 87.14 128.31 87.03 128.28 86.9 128.83 86.79 128.91 87.19 129.47 87.09 129.37 86.58 129.93 86.48 129.98 86.73 130.53 86.63 130.06 83.95 130.63 83.85 130.58 83.54 131.16 83.44 130.97 82.33 131.56 82.24 132.2 86.31 132.76 86.22 132.72 85.98 133.28 85.89 133.36 86.43 133.92 86.35 133.93 86.4 134.49 86.33 134.48 86.23 135.04 86.16 135.01 85.99 135.57 85.92 135.54 85.63 136.1 85.56 136.2 86.39 136.76 86.33 136.7 85.79 137.26 85.73 137.32 86.26 137.88 86.21 137.83 85.75 138.39 85.7 138.42 86 138.98 85.95 139.03 86.54 139.59 86.49 139.53 85.74 140.09 85.7 140.09 85.65 140.65 85.61 140.69 86.11 141.25 86.08 141.23 85.81 141.79 85.78 141.72 84.34 142.29 84.31 142.26 83.66 142.83 83.64 142.78 82.33 143.36 82.31 143.27 79.58 143.87 79.56 143.84 78.5 144.45 78.48 144.47 79.54 145.07 79.52 145.1 81.29 145.69 81.28 145.71 83.54 146.29 83.54ZM146.06 85.65A92.2 92.2 0 1 0 147.34 270.05A92.2 92.2 0 1 0 146.06 85.65Z"/>
<circle cx="146.7" cy="177.85" r="92.2" fill="none" stroke="#000" stroke-width="0.7" stroke-dasharray="1.1 0.6"/>
<circle cx="146.7" cy="177.85" r="123.05" fill="none" stroke="#868686" stroke-width="1.1"/>
<circle cx="146.7" cy="177.85" r="116.5" fill="none" stroke="#868686" stroke-width="1.1"/>
<circle cx="146.7" cy="177.85" r="100.35" fill="none" stroke="#868686" stroke-width="1.1"/>
<circle cx="146.7" cy="177.85" r="89.3" fill="none" stroke="#868686" stroke-width="1.1"/>
<circle cx="146.7" cy="177.85" r="77.6" fill="none" stroke="#868686" stroke-width="1.1"/>
<circle cx="146.7" cy="177.85" r="71.15" fill="none" stroke="#868686" stroke-width="1.1"/>
<circle cx="146.7" cy="177.85" r="108.5" fill="none" stroke="#8a8a8a" stroke-width="3.2"/>
<path stroke="#333" stroke-width="1.0" d="M145.83 52.85L145.8 49.55M146.21 107.95L146.23 111.15M167.85 54.25L168.11 52.77M158.44 109.25L158.17 110.82M189.22 59.88L189.73 58.47M170.3 112.37L169.76 113.88M209.28 69.18L210.02 67.88M181.43 117.53L180.63 118.92M227.38 81.85L228.35 80.7M191.48 124.57L190.45 125.79M242.68 97.76L245.21 95.65M200.37 133.07L197.91 135.12M255.59 115.66L256.89 114.92M207.14 143.33L205.75 144.13M264.82 135.74L266.23 135.24M212.26 154.48L210.75 155.02M270.38 157.13L271.86 156.89M215.34 166.35L213.77 166.62M272.09 179.17L273.59 179.18M216.3 178.58L214.7 178.57M269.52 201.09L272.76 201.7M215.38 190.85L212.24 190.25M263.91 222.43L265.31 222.97M211.75 202.59L210.26 202.03M254.26 242.32L255.55 243.09M206.4 213.63L205.03 212.81M241.27 260.2L242.4 261.18M199.19 223.56L197.98 222.51M225.34 275.52L226.29 276.69M190.35 232.06L189.35 230.82M206.78 287.46L208.37 290.36M180.3 239.15L178.76 236.34M186.73 296.69L187.21 298.11M168.92 243.81L168.41 242.29M165.25 301.87L165.47 303.35M156.99 246.68L156.76 245.1M143.19 303.2L143.14 304.7M144.75 247.42L144.79 245.82M121.23 300.64L120.93 302.11M132.57 246L132.89 244.43M100.22 293.89L98.99 296.95M120.71 242.74L121.9 239.77M80.36 284.27L79.57 285.54M109.88 236.91L110.73 235.56M62.71 270.97L61.7 272.08M100.08 229.53L101.15 228.34M47.66 254.77L46.48 255.69M91.73 220.54L93 219.56M35.7 236.19L34.37 236.89M85.09 210.23L86.51 209.49M27.56 215.68L24.42 216.68M80.08 199L83.13 198.03M22.37 194.22L20.89 194.42M77.7 186.94L79.28 186.73M21.43 172.14L19.93 172.08M77.17 174.68L78.77 174.76M24.38 150.24L22.91 149.91M78.81 162.53L80.37 162.88M31.12 129.19L29.74 128.61M82.55 150.84L84.03 151.46M41.8 109.88L39.03 108.08M88.04 139.84L90.72 141.58M55.07 92.24L53.97 91.22M95.84 130.34L97.01 131.43M71.52 77.48L70.62 76.28M104.97 122.14L105.93 123.42M90.31 65.84L89.64 64.5M115.4 115.68L116.12 117.11M110.85 57.68L110.42 56.25M126.8 111.15L127.26 112.69M132.55 53.65L132.18 50.37M138.79 108.4L139.15 111.58"/>
<path stroke="#2a2e38" stroke-width="2.0" d="M145.83 53.05L145.8 48.85"/>
<text x="171.5" y="143.8" font-size="6.6" fill="#2a2a2a" stroke="#2a2a2a" stroke-width="0.12" textLength="24.2" lengthAdjust="spacingAndGlyphs">0.5 Mbp</text>
<text x="185.5" y="192.5" font-size="6.6" fill="#2a2a2a" stroke="#2a2a2a" stroke-width="0.12" textLength="24.2" lengthAdjust="spacingAndGlyphs">1.0 Mbp</text>
<text x="153.6" y="233.8" font-size="6.6" fill="#2a2a2a" stroke="#2a2a2a" stroke-width="0.12" textLength="24.2" lengthAdjust="spacingAndGlyphs">1.5 Mbp</text>
<text x="123.2" y="236.4" font-size="6.6" fill="#2a2a2a" stroke="#2a2a2a" stroke-width="0.12" textLength="24.2" lengthAdjust="spacingAndGlyphs">2.0 Mbp</text>
<text x="86.5" y="196.8" font-size="6.6" fill="#2a2a2a" stroke="#2a2a2a" stroke-width="0.12" textLength="24.2" lengthAdjust="spacingAndGlyphs">2.5 Mbp</text>
<text x="93.8" y="149.8" font-size="6.6" fill="#2a2a2a" stroke="#2a2a2a" stroke-width="0.12" textLength="24.2" lengthAdjust="spacingAndGlyphs">3.0 Mbp</text>
<text x="127.8" y="120.8" font-size="6.6" fill="#2a2a2a" stroke="#2a2a2a" stroke-width="0.12" textLength="24.2" lengthAdjust="spacingAndGlyphs">3.5 Mbp</text>
<text x="134.3" y="165.7" font-size="12" fill="#1a1a1a" stroke="#1a1a1a" stroke-width="0.3" textLength="24.3" lengthAdjust="spacingAndGlyphs">Chr1</text>
<text x="112.0" y="180.1" font-size="12" fill="#1a1a1a" stroke="#1a1a1a" stroke-width="0.3" textLength="70" lengthAdjust="spacingAndGlyphs">3,560,332 bp</text>
<g font-size="7.3" fill="#161616" stroke="#161616" stroke-width="0.15">
<rect x="322.2" y="2.2" width="8.6" height="8.4" fill="#8f2bf0"/>
<text x="338" y="8.5">tRNA</text>
<rect x="322.3" y="14.73" width="8.6" height="8.4" fill="#ee8c0e"/>
<text x="339" y="21.05">CDS</text>
<rect x="322.39" y="27.26" width="8.6" height="8.4" fill="#1ec8c8"/>
<text x="339" y="33.6">rRNA</text>
<rect x="322.49" y="39.79" width="8.6" height="8.4" fill="#f0109b"/>
<text x="339" y="46.15">tmRNA</text>
<rect x="322.58" y="52.32" width="8.6" height="8.4" fill="#000000"/>
<text x="339" y="58.7">GC&#160; Content</text>
<rect x="322.68" y="64.85" width="8.6" height="8.4" fill="#0b960b"/>
<text x="339" y="71.25">GC Skew +</text>
<rect x="322.78" y="77.38" width="8.6" height="8.4" fill="#a400a8"/>
<text x="339" y="83.8">GC Skew −</text>
<rect x="322.87" y="89.91" width="8.6" height="8.4" fill="#14f07c"/>
<text x="339" y="96.35">G: Carbohydrate transport and metabolism</text>
<rect x="322.97" y="102.44" width="8.6" height="8.4" fill="#cc00dd"/>
<text x="339" y="108.9">D: Cell cycle control, cell division, chromosome partitioning</text>
<rect x="323.06" y="114.97" width="8.6" height="8.4" fill="#a8b800"/>
<text x="339" y="121.45">M: Cell cycle control, cell division, chromosome partitioning</text>
<rect x="323.16" y="127.5" width="8.6" height="8.4" fill="#10a0e8"/>
<text x="339" y="134">E: Amino acid transport and metabolism</text>
<rect x="323.26" y="140.03" width="8.6" height="8.4" fill="#f5105a"/>
<text x="339" y="146.55">F: Nucleotide transport and metabolism</text>
<rect x="323.35" y="152.56" width="8.6" height="8.4" fill="#10f010"/>
<text x="339" y="159.1">NA</text>
<rect x="323.45" y="165.09" width="8.6" height="8.4" fill="#6a30f8"/>
<text x="339" y="171.65">J: Translation, ribosomal structure and biogenesis</text>
<rect x="323.54" y="177.62" width="8.6" height="8.4" fill="#ff6a10"/>
<text x="339" y="184.2">S: Function unknown</text>
<rect x="323.64" y="190.15" width="8.6" height="8.4" fill="#20d8a8"/>
<text x="339" y="196.75">R: General function prediction only</text>
<rect x="323.74" y="202.68" width="8.6" height="8.4" fill="#e810c8"/>
<text x="339" y="209.3">C: Energy production and conversion</text>
<rect x="323.83" y="215.21" width="8.6" height="8.4" fill="#30e010"/>
<text x="339" y="221.85">K: Transcription</text>
<rect x="323.93" y="227.74" width="8.6" height="8.4" fill="#1570f0"/>
<text x="339" y="234.4">T: Signal transduction mechanisms</text>
<rect x="324.02" y="240.27" width="8.6" height="8.4" fill="#f52040"/>
<text x="339" y="246.95">L: Replication, recombination and repair</text>
<rect x="324.12" y="252.8" width="8.6" height="8.4" fill="#0cf066"/>
<text x="339" y="259.5">O: Posttranslational modification, protein turnover, chaperones</text>
<rect x="324.22" y="265.33" width="8.6" height="8.4" fill="#9a10f0"/>
<text x="339" y="272.05">P: Inorganic ion transport and metabolism</text>
<rect x="324.31" y="277.86" width="8.6" height="8.4" fill="#d8a010"/>
<text x="339" y="284.6">V: Defense mechanisms</text>
<rect x="324.41" y="290.39" width="8.6" height="8.4" fill="#1cb8d6"/>
<text x="339" y="297.15">X: Mobilome: prophages, transposons</text>
<rect x="324.5" y="302.92" width="8.6" height="8.4" fill="#fa108c"/>
<text x="339" y="309.7">H: Coenzyme transport and metabolism</text>
<rect x="324.6" y="315.45" width="8.6" height="8.4" fill="#0cf024"/>
<text x="339" y="322.25">N: Cell motility</text>
<rect x="324.7" y="327.98" width="8.6" height="8.4" fill="#4848f8"/>
<text x="339" y="334.8">I: Lipid transport and metabolism</text>
<rect x="324.79" y="340.51" width="8.6" height="8.4" fill="#ff5522"/>
<text x="339" y="347.35">U: Intracellular trafficking, secretion, and vesicular transport</text>
<rect x="324.89" y="353.04" width="8.6" height="8.4" fill="#10e27f"/>
<text x="339" y="359.9">Q: Secondary metabolites biosynthesis, transport and catabolism</text>
</g>
</svg>
</body></html>
